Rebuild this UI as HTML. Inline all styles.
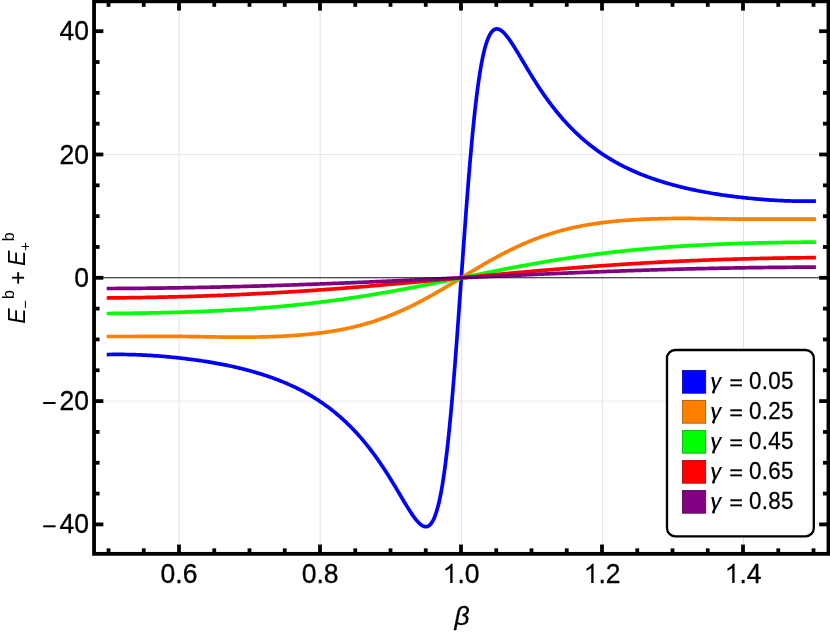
<!DOCTYPE html>
<html><head><meta charset="utf-8"><title>plot</title>
<style>html,body{margin:0;padding:0;background:#fff;}svg{display:block;will-change:transform;}</style>
</head><body>
<svg width="830" height="634" viewBox="0 0 830 634">
<rect x="0" y="0" width="830" height="634" fill="#ffffff"/>
<g stroke="#e8e8e8" stroke-width="1" fill="none">
<line x1="179.10" y1="1.3" x2="179.10" y2="553.85" stroke="#e3e3e3"/>
<line x1="320.20" y1="1.3" x2="320.20" y2="553.85" stroke="#e3e3e3"/>
<line x1="461.30" y1="1.3" x2="461.30" y2="553.85" stroke="#e3e3e3"/>
<line x1="602.40" y1="1.3" x2="602.40" y2="553.85" stroke="#e3e3e3"/>
<line x1="743.50" y1="1.3" x2="743.50" y2="553.85" stroke="#e3e3e3"/>
<line x1="94.05" y1="154.50" x2="828.45" y2="154.50"/>
<line x1="94.05" y1="401.10" x2="828.45" y2="401.10"/>
</g>
<g fill="none" stroke-width="3.7" stroke-linecap="square" stroke-linejoin="round">
<path d="M108.55,354.53 L110.22,354.50 L111.89,354.47 L113.56,354.45 L115.22,354.44 L116.87,354.43 L118.52,354.43 L120.17,354.43 L121.81,354.44 L123.45,354.46 L125.09,354.48 L126.72,354.50 L128.34,354.53 L129.96,354.57 L131.58,354.61 L133.19,354.66 L134.80,354.71 L136.41,354.76 L138.01,354.82 L139.60,354.89 L141.19,354.96 L142.78,355.03 L144.36,355.11 L145.94,355.20 L147.51,355.28 L149.08,355.38 L150.65,355.47 L152.21,355.57 L153.76,355.68 L155.31,355.79 L156.86,355.90 L158.41,356.02 L159.95,356.14 L161.48,356.26 L163.01,356.39 L164.54,356.52 L166.06,356.65 L167.58,356.79 L169.09,356.93 L170.60,357.08 L172.10,357.22 L173.60,357.38 L175.10,357.53 L176.59,357.69 L178.08,357.85 L179.56,358.01 L181.04,358.17 L182.52,358.34 L183.99,358.51 L185.46,358.68 L186.92,358.86 L188.38,359.04 L189.83,359.22 L191.28,359.41 L192.72,359.60 L194.17,359.79 L195.60,359.98 L197.04,360.18 L198.46,360.38 L199.89,360.59 L201.31,360.79 L202.72,361.00 L204.13,361.22 L205.54,361.44 L206.94,361.66 L208.34,361.88 L209.74,362.11 L211.13,362.34 L212.51,362.58 L213.90,362.82 L215.27,363.06 L216.65,363.31 L218.02,363.56 L219.38,363.81 L220.74,364.07 L222.10,364.33 L223.45,364.60 L224.80,364.87 L226.14,365.14 L227.48,365.42 L228.82,365.70 L230.15,365.98 L231.48,366.27 L232.80,366.56 L234.12,366.86 L235.44,367.16 L236.75,367.46 L238.05,367.77 L239.36,368.08 L240.66,368.40 L241.95,368.72 L243.24,369.04 L244.53,369.37 L245.81,369.70 L247.08,370.04 L248.36,370.38 L249.63,370.72 L250.89,371.07 L252.15,371.42 L253.41,371.77 L254.66,372.13 L255.91,372.50 L257.16,372.86 L258.40,373.24 L259.63,373.61 L260.87,373.99 L262.09,374.38 L263.32,374.77 L264.54,375.16 L265.75,375.56 L266.97,375.97 L268.17,376.37 L269.38,376.79 L270.58,377.20 L271.77,377.63 L272.96,378.05 L274.15,378.48 L275.33,378.92 L276.51,379.36 L277.69,379.81 L278.86,380.26 L280.03,380.72 L281.19,381.18 L282.35,381.65 L283.50,382.12 L284.65,382.60 L285.80,383.08 L286.94,383.57 L288.08,384.07 L289.21,384.57 L290.34,385.07 L291.47,385.58 L292.59,386.10 L293.71,386.62 L294.83,387.15 L295.94,387.68 L297.04,388.22 L298.15,388.77 L299.24,389.32 L300.34,389.88 L301.43,390.44 L302.51,391.01 L303.60,391.59 L304.67,392.17 L305.75,392.76 L306.82,393.35 L307.88,393.95 L308.95,394.56 L310.01,395.17 L311.06,395.79 L312.11,396.42 L313.16,397.05 L314.20,397.69 L315.24,398.33 L316.27,398.99 L317.30,399.64 L318.33,400.31 L319.35,400.98 L320.37,401.66 L321.38,402.35 L322.39,403.04 L323.40,403.74 L324.40,404.44 L325.40,405.16 L326.40,405.88 L327.39,406.61 L328.38,407.34 L329.36,408.08 L330.34,408.83 L331.31,409.58 L332.29,410.34 L333.25,411.11 L334.22,411.89 L335.18,412.67 L336.13,413.46 L337.08,414.26 L338.03,415.06 L338.98,415.87 L339.92,416.69 L340.85,417.51 L341.79,418.34 L342.71,419.18 L343.64,420.02 L344.56,420.88 L345.48,421.73 L346.39,422.60 L347.30,423.47 L348.21,424.35 L349.11,425.24 L350.00,426.13 L350.90,427.03 L351.79,427.93 L352.67,428.85 L353.56,429.77 L354.44,430.69 L355.31,431.63 L356.18,432.57 L357.05,433.51 L357.91,434.46 L358.77,435.42 L359.63,436.39 L360.48,437.36 L361.33,438.34 L362.17,439.32 L363.01,440.32 L363.85,441.31 L364.68,442.32 L365.51,443.33 L366.34,444.34 L367.16,445.37 L367.98,446.39 L368.79,447.43 L369.60,448.47 L370.41,449.51 L371.21,450.56 L372.01,451.62 L372.81,452.68 L373.60,453.75 L374.38,454.83 L375.17,455.90 L375.95,456.99 L376.73,458.08 L377.50,459.17 L378.27,460.27 L379.03,461.37 L379.80,462.47 L380.55,463.58 L381.31,464.70 L382.06,465.82 L382.81,466.94 L383.55,468.06 L384.29,469.19 L385.03,470.32 L385.76,471.45 L386.49,472.59 L387.21,473.73 L387.93,474.86 L388.65,476.00 L389.37,477.15 L390.08,478.29 L390.78,479.43 L391.49,480.57 L392.19,481.72 L392.88,482.86 L393.57,484.00 L394.26,485.14 L394.95,486.28 L395.63,487.41 L396.31,488.54 L396.98,489.67 L397.65,490.80 L398.32,491.92 L398.98,493.04 L399.64,494.15 L400.30,495.26 L400.95,496.36 L401.60,497.45 L402.25,498.54 L402.89,499.62 L403.53,500.69 L404.16,501.75 L404.79,502.80 L405.42,503.84 L406.05,504.87 L406.67,505.88 L407.29,506.89 L407.90,507.88 L408.51,508.85 L409.12,509.81 L409.72,510.76 L410.32,511.69 L410.92,512.59 L411.51,513.48 L412.10,514.36 L412.69,515.21 L413.27,516.03 L413.85,516.84 L414.42,517.62 L414.99,518.38 L415.56,519.11 L416.13,519.82 L416.69,520.49 L417.25,521.14 L417.80,521.76 L418.36,522.35 L418.90,522.90 L419.45,523.43 L419.99,523.91 L420.53,524.36 L421.06,524.78 L421.59,525.16 L422.12,525.49 L422.65,525.79 L423.17,526.05 L423.69,526.26 L424.20,526.43 L424.71,526.55 L425.22,526.63 L425.72,526.66 L426.22,526.65 L426.72,526.58 L427.22,526.46 L427.71,526.29 L428.20,526.07 L428.68,525.79 L429.16,525.46 L429.64,525.07 L430.11,524.62 L430.59,524.12 L431.05,523.55 L431.52,522.93 L431.98,522.25 L432.44,521.50 L432.89,520.69 L433.35,519.82 L433.80,518.89 L434.24,517.89 L434.68,516.83 L435.12,515.70 L435.56,514.50 L435.99,513.24 L436.42,511.92 L436.85,510.52 L437.27,509.06 L437.69,507.54 L438.11,505.94 L438.52,504.28 L438.94,502.56 L439.34,500.76 L439.75,498.90 L440.15,496.98 L440.55,494.99 L440.94,492.93 L441.34,490.81 L441.73,488.63 L442.11,486.39 L442.50,484.08 L442.88,481.71 L443.25,479.29 L443.63,476.80 L444.00,474.26 L444.37,471.66 L444.73,469.00 L445.09,466.29 L445.45,463.53 L445.81,460.72 L446.16,457.85 L446.51,454.94 L446.86,451.99 L447.21,448.98 L447.55,445.94 L447.89,442.85 L448.22,439.73 L448.56,436.57 L448.89,433.37 L449.22,430.14 L449.54,426.87 L449.86,423.58 L450.18,420.25 L450.50,416.91 L450.81,413.53 L451.12,410.14 L451.43,406.72 L451.74,403.29 L452.04,399.83 L452.34,396.37 L452.64,392.89 L452.93,389.40 L453.22,385.90 L453.51,382.39 L453.80,378.88 L454.08,375.37 L454.37,371.85 L454.64,368.33 L454.92,364.81 L455.19,361.30 L455.47,357.79 L455.74,354.28 L456.00,350.79 L456.27,347.30 L456.53,343.82 L456.79,340.35 L457.04,336.90 L457.30,333.46 L457.55,330.03 L457.80,326.62 L458.05,323.23 L458.29,319.85 L458.54,316.49 L458.78,313.15 L459.02,309.84 L459.25,306.54 L459.49,303.26 L459.72,300.00 L459.95,296.77 L460.18,293.55 L460.41,290.36 L460.63,287.19 L460.86,284.04 L461.08,280.91 L461.30,277.80 L461.52,274.69 L461.74,271.56 L461.97,268.41 L462.19,265.24 L462.42,262.05 L462.65,258.83 L462.88,255.60 L463.11,252.34 L463.35,249.06 L463.58,245.76 L463.82,242.45 L464.06,239.11 L464.31,235.75 L464.55,232.37 L464.80,228.98 L465.05,225.57 L465.30,222.14 L465.56,218.70 L465.81,215.25 L466.07,211.78 L466.33,208.30 L466.60,204.81 L466.86,201.32 L467.13,197.81 L467.41,194.30 L467.68,190.79 L467.96,187.27 L468.23,183.75 L468.52,180.23 L468.80,176.72 L469.09,173.21 L469.38,169.70 L469.67,166.20 L469.96,162.71 L470.26,159.23 L470.56,155.77 L470.86,152.31 L471.17,148.88 L471.48,145.46 L471.79,142.07 L472.10,138.69 L472.42,135.35 L472.74,132.02 L473.06,128.73 L473.38,125.46 L473.71,122.23 L474.04,119.03 L474.38,115.87 L474.71,112.75 L475.05,109.66 L475.39,106.62 L475.74,103.61 L476.09,100.66 L476.44,97.75 L476.79,94.88 L477.15,92.07 L477.51,89.31 L477.87,86.60 L478.23,83.94 L478.60,81.34 L478.97,78.80 L479.35,76.31 L479.72,73.89 L480.10,71.52 L480.49,69.21 L480.87,66.97 L481.26,64.79 L481.66,62.67 L482.05,60.61 L482.45,58.62 L482.85,56.70 L483.26,54.84 L483.66,53.04 L484.08,51.32 L484.49,49.66 L484.91,48.06 L485.33,46.54 L485.75,45.08 L486.18,43.68 L486.61,42.36 L487.04,41.10 L487.48,39.90 L487.92,38.77 L488.36,37.71 L488.80,36.71 L489.25,35.78 L489.71,34.91 L490.16,34.10 L490.62,33.35 L491.08,32.67 L491.55,32.05 L492.01,31.48 L492.49,30.98 L492.96,30.53 L493.44,30.14 L493.92,29.81 L494.40,29.53 L494.89,29.31 L495.38,29.14 L495.88,29.02 L496.38,28.95 L496.88,28.94 L497.38,28.97 L497.89,29.05 L498.40,29.17 L498.91,29.34 L499.43,29.55 L499.95,29.81 L500.48,30.11 L501.01,30.44 L501.54,30.82 L502.07,31.24 L502.61,31.69 L503.15,32.17 L503.70,32.70 L504.24,33.25 L504.80,33.84 L505.35,34.46 L505.91,35.11 L506.47,35.78 L507.04,36.49 L507.61,37.22 L508.18,37.98 L508.75,38.76 L509.33,39.57 L509.91,40.39 L510.50,41.24 L511.09,42.12 L511.68,43.01 L512.28,43.91 L512.88,44.84 L513.48,45.79 L514.09,46.75 L514.70,47.72 L515.31,48.71 L515.93,49.72 L516.55,50.73 L517.18,51.76 L517.81,52.80 L518.44,53.85 L519.07,54.91 L519.71,55.98 L520.35,57.06 L521.00,58.15 L521.65,59.24 L522.30,60.34 L522.96,61.45 L523.62,62.56 L524.28,63.68 L524.95,64.80 L525.62,65.93 L526.29,67.06 L526.97,68.19 L527.65,69.32 L528.34,70.46 L529.03,71.60 L529.72,72.74 L530.41,73.88 L531.11,75.03 L531.82,76.17 L532.52,77.31 L533.23,78.45 L533.95,79.60 L534.67,80.74 L535.39,81.87 L536.11,83.01 L536.84,84.15 L537.57,85.28 L538.31,86.41 L539.05,87.54 L539.79,88.66 L540.54,89.78 L541.29,90.90 L542.05,92.02 L542.80,93.13 L543.57,94.23 L544.33,95.33 L545.10,96.43 L545.87,97.52 L546.65,98.61 L547.43,99.70 L548.22,100.77 L549.00,101.85 L549.79,102.92 L550.59,103.98 L551.39,105.04 L552.19,106.09 L553.00,107.13 L553.81,108.17 L554.62,109.21 L555.44,110.23 L556.26,111.26 L557.09,112.27 L557.92,113.28 L558.75,114.29 L559.59,115.28 L560.43,116.28 L561.27,117.26 L562.12,118.24 L562.97,119.21 L563.83,120.18 L564.69,121.14 L565.55,122.09 L566.42,123.03 L567.29,123.97 L568.16,124.91 L569.04,125.83 L569.93,126.75 L570.81,127.67 L571.70,128.57 L572.60,129.47 L573.49,130.36 L574.39,131.25 L575.30,132.13 L576.21,133.00 L577.12,133.87 L578.04,134.72 L578.96,135.58 L579.89,136.42 L580.81,137.26 L581.75,138.09 L582.68,138.91 L583.62,139.73 L584.57,140.54 L585.52,141.34 L586.47,142.14 L587.42,142.93 L588.38,143.71 L589.35,144.49 L590.31,145.26 L591.29,146.02 L592.26,146.77 L593.24,147.52 L594.22,148.26 L595.21,148.99 L596.20,149.72 L597.20,150.44 L598.20,151.16 L599.20,151.86 L600.21,152.56 L601.22,153.25 L602.23,153.94 L603.25,154.62 L604.27,155.29 L605.30,155.96 L606.33,156.61 L607.36,157.27 L608.40,157.91 L609.44,158.55 L610.49,159.18 L611.54,159.81 L612.59,160.43 L613.65,161.04 L614.72,161.65 L615.78,162.25 L616.85,162.84 L617.93,163.43 L619.00,164.01 L620.09,164.59 L621.17,165.16 L622.26,165.72 L623.36,166.28 L624.45,166.83 L625.56,167.38 L626.66,167.92 L627.77,168.45 L628.89,168.98 L630.01,169.50 L631.13,170.02 L632.26,170.53 L633.39,171.03 L634.52,171.53 L635.66,172.03 L636.80,172.52 L637.95,173.00 L639.10,173.48 L640.25,173.95 L641.41,174.42 L642.57,174.88 L643.74,175.34 L644.91,175.79 L646.09,176.24 L647.27,176.68 L648.45,177.12 L649.64,177.55 L650.83,177.97 L652.02,178.40 L653.22,178.81 L654.43,179.23 L655.63,179.63 L656.85,180.04 L658.06,180.44 L659.28,180.83 L660.51,181.22 L661.73,181.61 L662.97,181.99 L664.20,182.36 L665.44,182.74 L666.69,183.10 L667.94,183.47 L669.19,183.83 L670.45,184.18 L671.71,184.53 L672.97,184.88 L674.24,185.22 L675.52,185.56 L676.79,185.90 L678.07,186.23 L679.36,186.56 L680.65,186.88 L681.94,187.20 L683.24,187.52 L684.55,187.83 L685.85,188.14 L687.16,188.44 L688.48,188.74 L689.80,189.04 L691.12,189.33 L692.45,189.62 L693.78,189.90 L695.12,190.18 L696.46,190.46 L697.80,190.73 L699.15,191.00 L700.50,191.27 L701.86,191.53 L703.22,191.79 L704.58,192.04 L705.95,192.29 L707.33,192.54 L708.70,192.78 L710.09,193.02 L711.47,193.26 L712.86,193.49 L714.26,193.72 L715.66,193.94 L717.06,194.16 L718.47,194.38 L719.88,194.60 L721.29,194.81 L722.71,195.01 L724.14,195.22 L725.56,195.42 L727.00,195.62 L728.43,195.81 L729.88,196.00 L731.32,196.19 L732.77,196.38 L734.22,196.56 L735.68,196.74 L737.14,196.92 L738.61,197.09 L740.08,197.26 L741.56,197.43 L743.04,197.59 L744.52,197.75 L746.01,197.91 L747.50,198.07 L749.00,198.22 L750.50,198.38 L752.00,198.52 L753.51,198.67 L755.02,198.81 L756.54,198.95 L758.06,199.08 L759.59,199.21 L761.12,199.34 L762.65,199.46 L764.19,199.58 L765.74,199.70 L767.29,199.81 L768.84,199.92 L770.39,200.03 L771.95,200.13 L773.52,200.22 L775.09,200.32 L776.66,200.40 L778.24,200.49 L779.82,200.57 L781.41,200.64 L783.00,200.71 L784.59,200.78 L786.19,200.84 L787.80,200.89 L789.41,200.94 L791.02,200.99 L792.64,201.03 L794.26,201.07 L795.88,201.10 L797.51,201.12 L799.15,201.14 L800.79,201.16 L802.43,201.17 L804.08,201.17 L805.73,201.17 L807.38,201.16 L809.04,201.15 L810.71,201.13 L812.38,201.10 L814.05,201.07" stroke="#0000ff"/>
<path d="M108.55,336.48 L110.22,336.48 L111.89,336.49 L113.56,336.50 L115.22,336.50 L116.87,336.50 L118.52,336.50 L120.17,336.50 L121.81,336.50 L123.45,336.50 L125.09,336.50 L126.72,336.50 L128.34,336.49 L129.96,336.49 L131.58,336.49 L133.19,336.48 L134.80,336.48 L136.41,336.47 L138.01,336.46 L139.60,336.46 L141.19,336.45 L142.78,336.44 L144.36,336.44 L145.94,336.43 L147.51,336.42 L149.08,336.42 L150.65,336.41 L152.21,336.41 L153.76,336.40 L155.31,336.40 L156.86,336.39 L158.41,336.39 L159.95,336.39 L161.48,336.39 L163.01,336.39 L164.54,336.39 L166.06,336.39 L167.58,336.39 L169.09,336.39 L170.60,336.39 L172.10,336.40 L173.60,336.41 L175.10,336.41 L176.59,336.42 L178.08,336.43 L179.56,336.44 L181.04,336.46 L182.52,336.47 L183.99,336.48 L185.46,336.50 L186.92,336.52 L188.38,336.54 L189.83,336.56 L191.28,336.58 L192.72,336.60 L194.17,336.62 L195.60,336.64 L197.04,336.66 L198.46,336.69 L199.89,336.71 L201.31,336.73 L202.72,336.76 L204.13,336.78 L205.54,336.80 L206.94,336.83 L208.34,336.85 L209.74,336.87 L211.13,336.89 L212.51,336.92 L213.90,336.94 L215.27,336.96 L216.65,336.98 L218.02,337.00 L219.38,337.02 L220.74,337.03 L222.10,337.05 L223.45,337.07 L224.80,337.08 L226.14,337.09 L227.48,337.11 L228.82,337.12 L230.15,337.13 L231.48,337.14 L232.80,337.15 L234.12,337.15 L235.44,337.16 L236.75,337.16 L238.05,337.17 L239.36,337.17 L240.66,337.17 L241.95,337.17 L243.24,337.16 L244.53,337.16 L245.81,337.15 L247.08,337.15 L248.36,337.14 L249.63,337.13 L250.89,337.11 L252.15,337.10 L253.41,337.08 L254.66,337.06 L255.91,337.04 L257.16,337.02 L258.40,337.00 L259.63,336.97 L260.87,336.95 L262.09,336.92 L263.32,336.89 L264.54,336.86 L265.75,336.82 L266.97,336.79 L268.17,336.75 L269.38,336.71 L270.58,336.67 L271.77,336.63 L272.96,336.59 L274.15,336.54 L275.33,336.49 L276.51,336.44 L277.69,336.39 L278.86,336.34 L280.03,336.29 L281.19,336.23 L282.35,336.17 L283.50,336.11 L284.65,336.05 L285.80,335.99 L286.94,335.92 L288.08,335.86 L289.21,335.79 L290.34,335.72 L291.47,335.65 L292.59,335.57 L293.71,335.50 L294.83,335.42 L295.94,335.34 L297.04,335.26 L298.15,335.18 L299.24,335.09 L300.34,335.00 L301.43,334.91 L302.51,334.82 L303.60,334.73 L304.67,334.63 L305.75,334.53 L306.82,334.43 L307.88,334.33 L308.95,334.23 L310.01,334.12 L311.06,334.01 L312.11,333.90 L313.16,333.79 L314.20,333.67 L315.24,333.56 L316.27,333.44 L317.30,333.31 L318.33,333.19 L319.35,333.06 L320.37,332.93 L321.38,332.80 L322.39,332.67 L323.40,332.53 L324.40,332.40 L325.40,332.26 L326.40,332.11 L327.39,331.97 L328.38,331.82 L329.36,331.67 L330.34,331.52 L331.31,331.37 L332.29,331.21 L333.25,331.05 L334.22,330.89 L335.18,330.73 L336.13,330.56 L337.08,330.39 L338.03,330.22 L338.98,330.05 L339.92,329.87 L340.85,329.70 L341.79,329.52 L342.71,329.33 L343.64,329.15 L344.56,328.96 L345.48,328.78 L346.39,328.58 L347.30,328.39 L348.21,328.20 L349.11,328.00 L350.00,327.80 L350.90,327.60 L351.79,327.39 L352.67,327.19 L353.56,326.98 L354.44,326.77 L355.31,326.56 L356.18,326.34 L357.05,326.13 L357.91,325.91 L358.77,325.69 L359.63,325.47 L360.48,325.24 L361.33,325.01 L362.17,324.79 L363.01,324.56 L363.85,324.32 L364.68,324.09 L365.51,323.85 L366.34,323.62 L367.16,323.38 L367.98,323.14 L368.79,322.89 L369.60,322.65 L370.41,322.40 L371.21,322.15 L372.01,321.90 L372.81,321.65 L373.60,321.40 L374.38,321.14 L375.17,320.89 L375.95,320.63 L376.73,320.37 L377.50,320.11 L378.27,319.85 L379.03,319.59 L379.80,319.32 L380.55,319.06 L381.31,318.79 L382.06,318.52 L382.81,318.25 L383.55,317.98 L384.29,317.71 L385.03,317.43 L385.76,317.16 L386.49,316.89 L387.21,316.61 L387.93,316.33 L388.65,316.05 L389.37,315.77 L390.08,315.49 L390.78,315.21 L391.49,314.93 L392.19,314.65 L392.88,314.37 L393.57,314.08 L394.26,313.80 L394.95,313.51 L395.63,313.23 L396.31,312.94 L396.98,312.65 L397.65,312.36 L398.32,312.08 L398.98,311.79 L399.64,311.50 L400.30,311.21 L400.95,310.92 L401.60,310.63 L402.25,310.34 L402.89,310.05 L403.53,309.76 L404.16,309.47 L404.79,309.18 L405.42,308.89 L406.05,308.60 L406.67,308.30 L407.29,308.01 L407.90,307.72 L408.51,307.43 L409.12,307.14 L409.72,306.85 L410.32,306.56 L410.92,306.27 L411.51,305.98 L412.10,305.69 L412.69,305.40 L413.27,305.11 L413.85,304.82 L414.42,304.53 L414.99,304.25 L415.56,303.96 L416.13,303.67 L416.69,303.39 L417.25,303.10 L417.80,302.81 L418.36,302.53 L418.90,302.24 L419.45,301.96 L419.99,301.68 L420.53,301.40 L421.06,301.11 L421.59,300.83 L422.12,300.55 L422.65,300.28 L423.17,300.00 L423.69,299.72 L424.20,299.44 L424.71,299.17 L425.22,298.89 L425.72,298.62 L426.22,298.35 L426.72,298.07 L427.22,297.80 L427.71,297.53 L428.20,297.26 L428.68,297.00 L429.16,296.73 L429.64,296.46 L430.11,296.20 L430.59,295.94 L431.05,295.68 L431.52,295.41 L431.98,295.15 L432.44,294.90 L432.89,294.64 L433.35,294.38 L433.80,294.13 L434.24,293.87 L434.68,293.62 L435.12,293.37 L435.56,293.12 L435.99,292.87 L436.42,292.63 L436.85,292.38 L437.27,292.14 L437.69,291.89 L438.11,291.65 L438.52,291.41 L438.94,291.18 L439.34,290.94 L439.75,290.70 L440.15,290.47 L440.55,290.24 L440.94,290.00 L441.34,289.77 L441.73,289.55 L442.11,289.32 L442.50,289.09 L442.88,288.87 L443.25,288.65 L443.63,288.43 L444.00,288.21 L444.37,287.99 L444.73,287.77 L445.09,287.56 L445.45,287.35 L445.81,287.13 L446.16,286.92 L446.51,286.71 L446.86,286.51 L447.21,286.30 L447.55,286.10 L447.89,285.90 L448.22,285.69 L448.56,285.50 L448.89,285.30 L449.22,285.10 L449.54,284.91 L449.86,284.71 L450.18,284.52 L450.50,284.33 L450.81,284.14 L451.12,283.96 L451.43,283.77 L451.74,283.59 L452.04,283.41 L452.34,283.22 L452.64,283.05 L452.93,282.87 L453.22,282.69 L453.51,282.52 L453.80,282.34 L454.08,282.17 L454.37,282.00 L454.64,281.83 L454.92,281.67 L455.19,281.50 L455.47,281.34 L455.74,281.17 L456.00,281.01 L456.27,280.85 L456.53,280.69 L456.79,280.54 L457.04,280.38 L457.30,280.23 L457.55,280.07 L457.80,279.92 L458.05,279.77 L458.29,279.62 L458.54,279.48 L458.78,279.33 L459.02,279.19 L459.25,279.04 L459.49,278.90 L459.72,278.76 L459.95,278.62 L460.18,278.48 L460.41,278.34 L460.63,278.20 L460.86,278.07 L461.08,277.93 L461.30,277.80 L461.52,277.67 L461.74,277.53 L461.97,277.40 L462.19,277.26 L462.42,277.12 L462.65,276.98 L462.88,276.84 L463.11,276.70 L463.35,276.56 L463.58,276.41 L463.82,276.27 L464.06,276.12 L464.31,275.98 L464.55,275.83 L464.80,275.68 L465.05,275.53 L465.30,275.37 L465.56,275.22 L465.81,275.06 L466.07,274.91 L466.33,274.75 L466.60,274.59 L466.86,274.43 L467.13,274.26 L467.41,274.10 L467.68,273.93 L467.96,273.77 L468.23,273.60 L468.52,273.43 L468.80,273.26 L469.09,273.08 L469.38,272.91 L469.67,272.73 L469.96,272.55 L470.26,272.38 L470.56,272.19 L470.86,272.01 L471.17,271.83 L471.48,271.64 L471.79,271.46 L472.10,271.27 L472.42,271.08 L472.74,270.89 L473.06,270.69 L473.38,270.50 L473.71,270.30 L474.04,270.10 L474.38,269.91 L474.71,269.70 L475.05,269.50 L475.39,269.30 L475.74,269.09 L476.09,268.89 L476.44,268.68 L476.79,268.47 L477.15,268.25 L477.51,268.04 L477.87,267.83 L478.23,267.61 L478.60,267.39 L478.97,267.17 L479.35,266.95 L479.72,266.73 L480.10,266.51 L480.49,266.28 L480.87,266.05 L481.26,265.83 L481.66,265.60 L482.05,265.36 L482.45,265.13 L482.85,264.90 L483.26,264.66 L483.66,264.42 L484.08,264.19 L484.49,263.95 L484.91,263.71 L485.33,263.46 L485.75,263.22 L486.18,262.97 L486.61,262.73 L487.04,262.48 L487.48,262.23 L487.92,261.98 L488.36,261.73 L488.80,261.47 L489.25,261.22 L489.71,260.96 L490.16,260.70 L490.62,260.45 L491.08,260.19 L491.55,259.92 L492.01,259.66 L492.49,259.40 L492.96,259.14 L493.44,258.87 L493.92,258.60 L494.40,258.34 L494.89,258.07 L495.38,257.80 L495.88,257.53 L496.38,257.25 L496.88,256.98 L497.38,256.71 L497.89,256.43 L498.40,256.16 L498.91,255.88 L499.43,255.60 L499.95,255.32 L500.48,255.05 L501.01,254.77 L501.54,254.49 L502.07,254.20 L502.61,253.92 L503.15,253.64 L503.70,253.36 L504.24,253.07 L504.80,252.79 L505.35,252.50 L505.91,252.21 L506.47,251.93 L507.04,251.64 L507.61,251.35 L508.18,251.07 L508.75,250.78 L509.33,250.49 L509.91,250.20 L510.50,249.91 L511.09,249.62 L511.68,249.33 L512.28,249.04 L512.88,248.75 L513.48,248.46 L514.09,248.17 L514.70,247.88 L515.31,247.59 L515.93,247.30 L516.55,247.00 L517.18,246.71 L517.81,246.42 L518.44,246.13 L519.07,245.84 L519.71,245.55 L520.35,245.26 L521.00,244.97 L521.65,244.68 L522.30,244.39 L522.96,244.10 L523.62,243.81 L524.28,243.52 L524.95,243.24 L525.62,242.95 L526.29,242.66 L526.97,242.37 L527.65,242.09 L528.34,241.80 L529.03,241.52 L529.72,241.23 L530.41,240.95 L531.11,240.67 L531.82,240.39 L532.52,240.11 L533.23,239.83 L533.95,239.55 L534.67,239.27 L535.39,238.99 L536.11,238.71 L536.84,238.44 L537.57,238.17 L538.31,237.89 L539.05,237.62 L539.79,237.35 L540.54,237.08 L541.29,236.81 L542.05,236.54 L542.80,236.28 L543.57,236.01 L544.33,235.75 L545.10,235.49 L545.87,235.23 L546.65,234.97 L547.43,234.71 L548.22,234.46 L549.00,234.20 L549.79,233.95 L550.59,233.70 L551.39,233.45 L552.19,233.20 L553.00,232.95 L553.81,232.71 L554.62,232.46 L555.44,232.22 L556.26,231.98 L557.09,231.75 L557.92,231.51 L558.75,231.28 L559.59,231.04 L560.43,230.81 L561.27,230.59 L562.12,230.36 L562.97,230.13 L563.83,229.91 L564.69,229.69 L565.55,229.47 L566.42,229.26 L567.29,229.04 L568.16,228.83 L569.04,228.62 L569.93,228.41 L570.81,228.21 L571.70,228.00 L572.60,227.80 L573.49,227.60 L574.39,227.40 L575.30,227.21 L576.21,227.02 L577.12,226.82 L578.04,226.64 L578.96,226.45 L579.89,226.27 L580.81,226.08 L581.75,225.90 L582.68,225.73 L583.62,225.55 L584.57,225.38 L585.52,225.21 L586.47,225.04 L587.42,224.87 L588.38,224.71 L589.35,224.55 L590.31,224.39 L591.29,224.23 L592.26,224.08 L593.24,223.93 L594.22,223.78 L595.21,223.63 L596.20,223.49 L597.20,223.34 L598.20,223.20 L599.20,223.07 L600.21,222.93 L601.22,222.80 L602.23,222.67 L603.25,222.54 L604.27,222.41 L605.30,222.29 L606.33,222.16 L607.36,222.04 L608.40,221.93 L609.44,221.81 L610.49,221.70 L611.54,221.59 L612.59,221.48 L613.65,221.37 L614.72,221.27 L615.78,221.17 L616.85,221.07 L617.93,220.97 L619.00,220.87 L620.09,220.78 L621.17,220.69 L622.26,220.60 L623.36,220.51 L624.45,220.42 L625.56,220.34 L626.66,220.26 L627.77,220.18 L628.89,220.10 L630.01,220.03 L631.13,219.95 L632.26,219.88 L633.39,219.81 L634.52,219.74 L635.66,219.68 L636.80,219.61 L637.95,219.55 L639.10,219.49 L640.25,219.43 L641.41,219.37 L642.57,219.31 L643.74,219.26 L644.91,219.21 L646.09,219.16 L647.27,219.11 L648.45,219.06 L649.64,219.01 L650.83,218.97 L652.02,218.93 L653.22,218.89 L654.43,218.85 L655.63,218.81 L656.85,218.78 L658.06,218.74 L659.28,218.71 L660.51,218.68 L661.73,218.65 L662.97,218.63 L664.20,218.60 L665.44,218.58 L666.69,218.56 L667.94,218.54 L669.19,218.52 L670.45,218.50 L671.71,218.49 L672.97,218.47 L674.24,218.46 L675.52,218.45 L676.79,218.45 L678.07,218.44 L679.36,218.44 L680.65,218.43 L681.94,218.43 L683.24,218.43 L684.55,218.43 L685.85,218.44 L687.16,218.44 L688.48,218.45 L689.80,218.45 L691.12,218.46 L692.45,218.47 L693.78,218.48 L695.12,218.49 L696.46,218.51 L697.80,218.52 L699.15,218.53 L700.50,218.55 L701.86,218.57 L703.22,218.58 L704.58,218.60 L705.95,218.62 L707.33,218.64 L708.70,218.66 L710.09,218.68 L711.47,218.71 L712.86,218.73 L714.26,218.75 L715.66,218.77 L717.06,218.80 L718.47,218.82 L719.88,218.84 L721.29,218.87 L722.71,218.89 L724.14,218.91 L725.56,218.94 L727.00,218.96 L728.43,218.98 L729.88,219.00 L731.32,219.02 L732.77,219.04 L734.22,219.06 L735.68,219.08 L737.14,219.10 L738.61,219.12 L740.08,219.13 L741.56,219.14 L743.04,219.16 L744.52,219.17 L746.01,219.18 L747.50,219.19 L749.00,219.19 L750.50,219.20 L752.00,219.21 L753.51,219.21 L755.02,219.21 L756.54,219.21 L758.06,219.21 L759.59,219.21 L761.12,219.21 L762.65,219.21 L764.19,219.21 L765.74,219.21 L767.29,219.20 L768.84,219.20 L770.39,219.19 L771.95,219.19 L773.52,219.18 L775.09,219.18 L776.66,219.17 L778.24,219.16 L779.82,219.16 L781.41,219.15 L783.00,219.14 L784.59,219.14 L786.19,219.13 L787.80,219.12 L789.41,219.12 L791.02,219.11 L792.64,219.11 L794.26,219.11 L795.88,219.10 L797.51,219.10 L799.15,219.10 L800.79,219.10 L802.43,219.10 L804.08,219.10 L805.73,219.10 L807.38,219.10 L809.04,219.10 L810.71,219.11 L812.38,219.12 L814.05,219.12" stroke="#ff7f00"/>
<path d="M108.55,313.49 L110.22,313.48 L111.89,313.47 L113.56,313.45 L115.22,313.44 L116.87,313.42 L118.52,313.41 L120.17,313.39 L121.81,313.37 L123.45,313.35 L125.09,313.34 L126.72,313.32 L128.34,313.30 L129.96,313.28 L131.58,313.26 L133.19,313.23 L134.80,313.21 L136.41,313.19 L138.01,313.17 L139.60,313.14 L141.19,313.12 L142.78,313.09 L144.36,313.06 L145.94,313.04 L147.51,313.01 L149.08,312.98 L150.65,312.95 L152.21,312.92 L153.76,312.89 L155.31,312.86 L156.86,312.82 L158.41,312.79 L159.95,312.76 L161.48,312.72 L163.01,312.69 L164.54,312.65 L166.06,312.61 L167.58,312.58 L169.09,312.54 L170.60,312.50 L172.10,312.46 L173.60,312.42 L175.10,312.38 L176.59,312.33 L178.08,312.29 L179.56,312.25 L181.04,312.20 L182.52,312.16 L183.99,312.11 L185.46,312.06 L186.92,312.01 L188.38,311.96 L189.83,311.91 L191.28,311.86 L192.72,311.81 L194.17,311.76 L195.60,311.71 L197.04,311.65 L198.46,311.60 L199.89,311.54 L201.31,311.49 L202.72,311.43 L204.13,311.37 L205.54,311.31 L206.94,311.25 L208.34,311.19 L209.74,311.13 L211.13,311.07 L212.51,311.00 L213.90,310.94 L215.27,310.88 L216.65,310.81 L218.02,310.74 L219.38,310.68 L220.74,310.61 L222.10,310.54 L223.45,310.47 L224.80,310.40 L226.14,310.33 L227.48,310.25 L228.82,310.18 L230.15,310.11 L231.48,310.03 L232.80,309.95 L234.12,309.88 L235.44,309.80 L236.75,309.72 L238.05,309.64 L239.36,309.56 L240.66,309.48 L241.95,309.40 L243.24,309.32 L244.53,309.23 L245.81,309.15 L247.08,309.06 L248.36,308.98 L249.63,308.89 L250.89,308.80 L252.15,308.72 L253.41,308.63 L254.66,308.54 L255.91,308.45 L257.16,308.35 L258.40,308.26 L259.63,308.17 L260.87,308.07 L262.09,307.98 L263.32,307.88 L264.54,307.79 L265.75,307.69 L266.97,307.59 L268.17,307.50 L269.38,307.40 L270.58,307.30 L271.77,307.20 L272.96,307.09 L274.15,306.99 L275.33,306.89 L276.51,306.79 L277.69,306.68 L278.86,306.58 L280.03,306.47 L281.19,306.37 L282.35,306.26 L283.50,306.15 L284.65,306.04 L285.80,305.94 L286.94,305.83 L288.08,305.72 L289.21,305.61 L290.34,305.49 L291.47,305.38 L292.59,305.27 L293.71,305.16 L294.83,305.04 L295.94,304.93 L297.04,304.81 L298.15,304.70 L299.24,304.58 L300.34,304.47 L301.43,304.35 L302.51,304.23 L303.60,304.12 L304.67,304.00 L305.75,303.88 L306.82,303.76 L307.88,303.64 L308.95,303.52 L310.01,303.40 L311.06,303.28 L312.11,303.15 L313.16,303.03 L314.20,302.91 L315.24,302.79 L316.27,302.66 L317.30,302.54 L318.33,302.42 L319.35,302.29 L320.37,302.17 L321.38,302.04 L322.39,301.92 L323.40,301.79 L324.40,301.66 L325.40,301.54 L326.40,301.41 L327.39,301.28 L328.38,301.15 L329.36,301.03 L330.34,300.90 L331.31,300.77 L332.29,300.64 L333.25,300.51 L334.22,300.38 L335.18,300.25 L336.13,300.12 L337.08,299.99 L338.03,299.86 L338.98,299.73 L339.92,299.60 L340.85,299.47 L341.79,299.34 L342.71,299.21 L343.64,299.08 L344.56,298.95 L345.48,298.82 L346.39,298.69 L347.30,298.55 L348.21,298.42 L349.11,298.29 L350.00,298.16 L350.90,298.03 L351.79,297.89 L352.67,297.76 L353.56,297.63 L354.44,297.50 L355.31,297.36 L356.18,297.23 L357.05,297.10 L357.91,296.97 L358.77,296.83 L359.63,296.70 L360.48,296.57 L361.33,296.44 L362.17,296.30 L363.01,296.17 L363.85,296.04 L364.68,295.91 L365.51,295.77 L366.34,295.64 L367.16,295.51 L367.98,295.38 L368.79,295.25 L369.60,295.11 L370.41,294.98 L371.21,294.85 L372.01,294.72 L372.81,294.59 L373.60,294.46 L374.38,294.33 L375.17,294.20 L375.95,294.06 L376.73,293.93 L377.50,293.80 L378.27,293.67 L379.03,293.54 L379.80,293.41 L380.55,293.28 L381.31,293.16 L382.06,293.03 L382.81,292.90 L383.55,292.77 L384.29,292.64 L385.03,292.51 L385.76,292.39 L386.49,292.26 L387.21,292.13 L387.93,292.00 L388.65,291.88 L389.37,291.75 L390.08,291.63 L390.78,291.50 L391.49,291.37 L392.19,291.25 L392.88,291.12 L393.57,291.00 L394.26,290.88 L394.95,290.75 L395.63,290.63 L396.31,290.51 L396.98,290.38 L397.65,290.26 L398.32,290.14 L398.98,290.02 L399.64,289.90 L400.30,289.78 L400.95,289.66 L401.60,289.54 L402.25,289.42 L402.89,289.30 L403.53,289.18 L404.16,289.06 L404.79,288.95 L405.42,288.83 L406.05,288.71 L406.67,288.59 L407.29,288.48 L407.90,288.36 L408.51,288.25 L409.12,288.13 L409.72,288.02 L410.32,287.91 L410.92,287.79 L411.51,287.68 L412.10,287.57 L412.69,287.46 L413.27,287.35 L413.85,287.24 L414.42,287.13 L414.99,287.02 L415.56,286.91 L416.13,286.80 L416.69,286.69 L417.25,286.58 L417.80,286.48 L418.36,286.37 L418.90,286.26 L419.45,286.16 L419.99,286.05 L420.53,285.95 L421.06,285.85 L421.59,285.74 L422.12,285.64 L422.65,285.54 L423.17,285.44 L423.69,285.33 L424.20,285.23 L424.71,285.13 L425.22,285.03 L425.72,284.94 L426.22,284.84 L426.72,284.74 L427.22,284.64 L427.71,284.55 L428.20,284.45 L428.68,284.35 L429.16,284.26 L429.64,284.16 L430.11,284.07 L430.59,283.98 L431.05,283.89 L431.52,283.79 L431.98,283.70 L432.44,283.61 L432.89,283.52 L433.35,283.43 L433.80,283.34 L434.24,283.25 L434.68,283.16 L435.12,283.08 L435.56,282.99 L435.99,282.90 L436.42,282.82 L436.85,282.73 L437.27,282.65 L437.69,282.56 L438.11,282.48 L438.52,282.40 L438.94,282.32 L439.34,282.23 L439.75,282.15 L440.15,282.07 L440.55,281.99 L440.94,281.91 L441.34,281.83 L441.73,281.76 L442.11,281.68 L442.50,281.60 L442.88,281.53 L443.25,281.45 L443.63,281.37 L444.00,281.30 L444.37,281.23 L444.73,281.15 L445.09,281.08 L445.45,281.01 L445.81,280.93 L446.16,280.86 L446.51,280.79 L446.86,280.72 L447.21,280.65 L447.55,280.58 L447.89,280.52 L448.22,280.45 L448.56,280.38 L448.89,280.31 L449.22,280.25 L449.54,280.18 L449.86,280.12 L450.18,280.05 L450.50,279.99 L450.81,279.93 L451.12,279.86 L451.43,279.80 L451.74,279.74 L452.04,279.68 L452.34,279.62 L452.64,279.56 L452.93,279.50 L453.22,279.44 L453.51,279.38 L453.80,279.32 L454.08,279.26 L454.37,279.21 L454.64,279.15 L454.92,279.09 L455.19,279.04 L455.47,278.98 L455.74,278.93 L456.00,278.87 L456.27,278.82 L456.53,278.77 L456.79,278.72 L457.04,278.66 L457.30,278.61 L457.55,278.56 L457.80,278.51 L458.05,278.46 L458.29,278.41 L458.54,278.36 L458.78,278.31 L459.02,278.26 L459.25,278.22 L459.49,278.17 L459.72,278.12 L459.95,278.07 L460.18,278.03 L460.41,277.98 L460.63,277.94 L460.86,277.89 L461.08,277.84 L461.30,277.80 L461.52,277.76 L461.74,277.71 L461.97,277.66 L462.19,277.62 L462.42,277.57 L462.65,277.53 L462.88,277.48 L463.11,277.43 L463.35,277.38 L463.58,277.34 L463.82,277.29 L464.06,277.24 L464.31,277.19 L464.55,277.14 L464.80,277.09 L465.05,277.04 L465.30,276.99 L465.56,276.94 L465.81,276.88 L466.07,276.83 L466.33,276.78 L466.60,276.73 L466.86,276.67 L467.13,276.62 L467.41,276.56 L467.68,276.51 L467.96,276.45 L468.23,276.39 L468.52,276.34 L468.80,276.28 L469.09,276.22 L469.38,276.16 L469.67,276.10 L469.96,276.04 L470.26,275.98 L470.56,275.92 L470.86,275.86 L471.17,275.80 L471.48,275.74 L471.79,275.67 L472.10,275.61 L472.42,275.55 L472.74,275.48 L473.06,275.42 L473.38,275.35 L473.71,275.29 L474.04,275.22 L474.38,275.15 L474.71,275.08 L475.05,275.02 L475.39,274.95 L475.74,274.88 L476.09,274.81 L476.44,274.74 L476.79,274.67 L477.15,274.59 L477.51,274.52 L477.87,274.45 L478.23,274.37 L478.60,274.30 L478.97,274.23 L479.35,274.15 L479.72,274.07 L480.10,274.00 L480.49,273.92 L480.87,273.84 L481.26,273.77 L481.66,273.69 L482.05,273.61 L482.45,273.53 L482.85,273.45 L483.26,273.37 L483.66,273.28 L484.08,273.20 L484.49,273.12 L484.91,273.04 L485.33,272.95 L485.75,272.87 L486.18,272.78 L486.61,272.70 L487.04,272.61 L487.48,272.52 L487.92,272.44 L488.36,272.35 L488.80,272.26 L489.25,272.17 L489.71,272.08 L490.16,271.99 L490.62,271.90 L491.08,271.81 L491.55,271.71 L492.01,271.62 L492.49,271.53 L492.96,271.44 L493.44,271.34 L493.92,271.25 L494.40,271.15 L494.89,271.05 L495.38,270.96 L495.88,270.86 L496.38,270.76 L496.88,270.66 L497.38,270.57 L497.89,270.47 L498.40,270.37 L498.91,270.27 L499.43,270.16 L499.95,270.06 L500.48,269.96 L501.01,269.86 L501.54,269.75 L502.07,269.65 L502.61,269.55 L503.15,269.44 L503.70,269.34 L504.24,269.23 L504.80,269.12 L505.35,269.02 L505.91,268.91 L506.47,268.80 L507.04,268.69 L507.61,268.58 L508.18,268.47 L508.75,268.36 L509.33,268.25 L509.91,268.14 L510.50,268.03 L511.09,267.92 L511.68,267.81 L512.28,267.69 L512.88,267.58 L513.48,267.47 L514.09,267.35 L514.70,267.24 L515.31,267.12 L515.93,267.01 L516.55,266.89 L517.18,266.77 L517.81,266.65 L518.44,266.54 L519.07,266.42 L519.71,266.30 L520.35,266.18 L521.00,266.06 L521.65,265.94 L522.30,265.82 L522.96,265.70 L523.62,265.58 L524.28,265.46 L524.95,265.34 L525.62,265.22 L526.29,265.09 L526.97,264.97 L527.65,264.85 L528.34,264.72 L529.03,264.60 L529.72,264.48 L530.41,264.35 L531.11,264.23 L531.82,264.10 L532.52,263.97 L533.23,263.85 L533.95,263.72 L534.67,263.60 L535.39,263.47 L536.11,263.34 L536.84,263.21 L537.57,263.09 L538.31,262.96 L539.05,262.83 L539.79,262.70 L540.54,262.57 L541.29,262.44 L542.05,262.32 L542.80,262.19 L543.57,262.06 L544.33,261.93 L545.10,261.80 L545.87,261.67 L546.65,261.54 L547.43,261.40 L548.22,261.27 L549.00,261.14 L549.79,261.01 L550.59,260.88 L551.39,260.75 L552.19,260.62 L553.00,260.49 L553.81,260.35 L554.62,260.22 L555.44,260.09 L556.26,259.96 L557.09,259.83 L557.92,259.69 L558.75,259.56 L559.59,259.43 L560.43,259.30 L561.27,259.16 L562.12,259.03 L562.97,258.90 L563.83,258.77 L564.69,258.63 L565.55,258.50 L566.42,258.37 L567.29,258.24 L568.16,258.10 L569.04,257.97 L569.93,257.84 L570.81,257.71 L571.70,257.57 L572.60,257.44 L573.49,257.31 L574.39,257.18 L575.30,257.05 L576.21,256.91 L577.12,256.78 L578.04,256.65 L578.96,256.52 L579.89,256.39 L580.81,256.26 L581.75,256.13 L582.68,256.00 L583.62,255.87 L584.57,255.74 L585.52,255.61 L586.47,255.48 L587.42,255.35 L588.38,255.22 L589.35,255.09 L590.31,254.96 L591.29,254.83 L592.26,254.70 L593.24,254.57 L594.22,254.45 L595.21,254.32 L596.20,254.19 L597.20,254.06 L598.20,253.94 L599.20,253.81 L600.21,253.68 L601.22,253.56 L602.23,253.43 L603.25,253.31 L604.27,253.18 L605.30,253.06 L606.33,252.94 L607.36,252.81 L608.40,252.69 L609.44,252.57 L610.49,252.45 L611.54,252.32 L612.59,252.20 L613.65,252.08 L614.72,251.96 L615.78,251.84 L616.85,251.72 L617.93,251.60 L619.00,251.48 L620.09,251.37 L621.17,251.25 L622.26,251.13 L623.36,251.02 L624.45,250.90 L625.56,250.79 L626.66,250.67 L627.77,250.56 L628.89,250.44 L630.01,250.33 L631.13,250.22 L632.26,250.11 L633.39,249.99 L634.52,249.88 L635.66,249.77 L636.80,249.66 L637.95,249.56 L639.10,249.45 L640.25,249.34 L641.41,249.23 L642.57,249.13 L643.74,249.02 L644.91,248.92 L646.09,248.81 L647.27,248.71 L648.45,248.61 L649.64,248.51 L650.83,248.40 L652.02,248.30 L653.22,248.20 L654.43,248.10 L655.63,248.01 L656.85,247.91 L658.06,247.81 L659.28,247.72 L660.51,247.62 L661.73,247.53 L662.97,247.43 L664.20,247.34 L665.44,247.25 L666.69,247.15 L667.94,247.06 L669.19,246.97 L670.45,246.88 L671.71,246.80 L672.97,246.71 L674.24,246.62 L675.52,246.54 L676.79,246.45 L678.07,246.37 L679.36,246.28 L680.65,246.20 L681.94,246.12 L683.24,246.04 L684.55,245.96 L685.85,245.88 L687.16,245.80 L688.48,245.72 L689.80,245.65 L691.12,245.57 L692.45,245.49 L693.78,245.42 L695.12,245.35 L696.46,245.27 L697.80,245.20 L699.15,245.13 L700.50,245.06 L701.86,244.99 L703.22,244.92 L704.58,244.86 L705.95,244.79 L707.33,244.72 L708.70,244.66 L710.09,244.60 L711.47,244.53 L712.86,244.47 L714.26,244.41 L715.66,244.35 L717.06,244.29 L718.47,244.23 L719.88,244.17 L721.29,244.11 L722.71,244.06 L724.14,244.00 L725.56,243.95 L727.00,243.89 L728.43,243.84 L729.88,243.79 L731.32,243.74 L732.77,243.69 L734.22,243.64 L735.68,243.59 L737.14,243.54 L738.61,243.49 L740.08,243.44 L741.56,243.40 L743.04,243.35 L744.52,243.31 L746.01,243.27 L747.50,243.22 L749.00,243.18 L750.50,243.14 L752.00,243.10 L753.51,243.06 L755.02,243.02 L756.54,242.99 L758.06,242.95 L759.59,242.91 L761.12,242.88 L762.65,242.84 L764.19,242.81 L765.74,242.78 L767.29,242.74 L768.84,242.71 L770.39,242.68 L771.95,242.65 L773.52,242.62 L775.09,242.59 L776.66,242.56 L778.24,242.54 L779.82,242.51 L781.41,242.48 L783.00,242.46 L784.59,242.43 L786.19,242.41 L787.80,242.39 L789.41,242.37 L791.02,242.34 L792.64,242.32 L794.26,242.30 L795.88,242.28 L797.51,242.26 L799.15,242.25 L800.79,242.23 L802.43,242.21 L804.08,242.19 L805.73,242.18 L807.38,242.16 L809.04,242.15 L810.71,242.13 L812.38,242.12 L814.05,242.11" stroke="#00ff00"/>
<path d="M108.55,297.96 L110.22,297.94 L111.89,297.93 L113.56,297.91 L115.22,297.89 L116.87,297.87 L118.52,297.86 L120.17,297.84 L121.81,297.82 L123.45,297.80 L125.09,297.78 L126.72,297.76 L128.34,297.73 L129.96,297.71 L131.58,297.69 L133.19,297.67 L134.80,297.64 L136.41,297.62 L138.01,297.59 L139.60,297.57 L141.19,297.54 L142.78,297.51 L144.36,297.49 L145.94,297.46 L147.51,297.43 L149.08,297.40 L150.65,297.37 L152.21,297.34 L153.76,297.31 L155.31,297.28 L156.86,297.25 L158.41,297.21 L159.95,297.18 L161.48,297.15 L163.01,297.11 L164.54,297.08 L166.06,297.04 L167.58,297.01 L169.09,296.97 L170.60,296.93 L172.10,296.90 L173.60,296.86 L175.10,296.82 L176.59,296.78 L178.08,296.74 L179.56,296.70 L181.04,296.66 L182.52,296.62 L183.99,296.58 L185.46,296.54 L186.92,296.50 L188.38,296.45 L189.83,296.41 L191.28,296.37 L192.72,296.32 L194.17,296.28 L195.60,296.23 L197.04,296.19 L198.46,296.14 L199.89,296.09 L201.31,296.05 L202.72,296.00 L204.13,295.95 L205.54,295.90 L206.94,295.85 L208.34,295.80 L209.74,295.75 L211.13,295.70 L212.51,295.65 L213.90,295.60 L215.27,295.55 L216.65,295.50 L218.02,295.45 L219.38,295.39 L220.74,295.34 L222.10,295.29 L223.45,295.23 L224.80,295.18 L226.14,295.12 L227.48,295.07 L228.82,295.01 L230.15,294.96 L231.48,294.90 L232.80,294.84 L234.12,294.79 L235.44,294.73 L236.75,294.67 L238.05,294.61 L239.36,294.55 L240.66,294.50 L241.95,294.44 L243.24,294.38 L244.53,294.32 L245.81,294.26 L247.08,294.20 L248.36,294.14 L249.63,294.07 L250.89,294.01 L252.15,293.95 L253.41,293.89 L254.66,293.83 L255.91,293.76 L257.16,293.70 L258.40,293.64 L259.63,293.58 L260.87,293.51 L262.09,293.45 L263.32,293.38 L264.54,293.32 L265.75,293.25 L266.97,293.19 L268.17,293.12 L269.38,293.06 L270.58,292.99 L271.77,292.93 L272.96,292.86 L274.15,292.79 L275.33,292.73 L276.51,292.66 L277.69,292.59 L278.86,292.53 L280.03,292.46 L281.19,292.39 L282.35,292.32 L283.50,292.26 L284.65,292.19 L285.80,292.12 L286.94,292.05 L288.08,291.98 L289.21,291.91 L290.34,291.84 L291.47,291.78 L292.59,291.71 L293.71,291.64 L294.83,291.57 L295.94,291.50 L297.04,291.43 L298.15,291.36 L299.24,291.29 L300.34,291.22 L301.43,291.15 L302.51,291.08 L303.60,291.01 L304.67,290.94 L305.75,290.87 L306.82,290.79 L307.88,290.72 L308.95,290.65 L310.01,290.58 L311.06,290.51 L312.11,290.44 L313.16,290.37 L314.20,290.30 L315.24,290.23 L316.27,290.16 L317.30,290.08 L318.33,290.01 L319.35,289.94 L320.37,289.87 L321.38,289.80 L322.39,289.73 L323.40,289.66 L324.40,289.58 L325.40,289.51 L326.40,289.44 L327.39,289.37 L328.38,289.30 L329.36,289.23 L330.34,289.16 L331.31,289.08 L332.29,289.01 L333.25,288.94 L334.22,288.87 L335.18,288.80 L336.13,288.73 L337.08,288.66 L338.03,288.59 L338.98,288.51 L339.92,288.44 L340.85,288.37 L341.79,288.30 L342.71,288.23 L343.64,288.16 L344.56,288.09 L345.48,288.02 L346.39,287.95 L347.30,287.88 L348.21,287.81 L349.11,287.74 L350.00,287.67 L350.90,287.60 L351.79,287.53 L352.67,287.46 L353.56,287.39 L354.44,287.32 L355.31,287.25 L356.18,287.18 L357.05,287.11 L357.91,287.04 L358.77,286.97 L359.63,286.90 L360.48,286.83 L361.33,286.76 L362.17,286.69 L363.01,286.63 L363.85,286.56 L364.68,286.49 L365.51,286.42 L366.34,286.35 L367.16,286.29 L367.98,286.22 L368.79,286.15 L369.60,286.08 L370.41,286.02 L371.21,285.95 L372.01,285.88 L372.81,285.82 L373.60,285.75 L374.38,285.68 L375.17,285.62 L375.95,285.55 L376.73,285.49 L377.50,285.42 L378.27,285.36 L379.03,285.29 L379.80,285.23 L380.55,285.16 L381.31,285.10 L382.06,285.03 L382.81,284.97 L383.55,284.90 L384.29,284.84 L385.03,284.78 L385.76,284.71 L386.49,284.65 L387.21,284.59 L387.93,284.52 L388.65,284.46 L389.37,284.40 L390.08,284.34 L390.78,284.28 L391.49,284.21 L392.19,284.15 L392.88,284.09 L393.57,284.03 L394.26,283.97 L394.95,283.91 L395.63,283.85 L396.31,283.79 L396.98,283.73 L397.65,283.67 L398.32,283.61 L398.98,283.55 L399.64,283.50 L400.30,283.44 L400.95,283.38 L401.60,283.32 L402.25,283.26 L402.89,283.21 L403.53,283.15 L404.16,283.09 L404.79,283.03 L405.42,282.98 L406.05,282.92 L406.67,282.87 L407.29,282.81 L407.90,282.76 L408.51,282.70 L409.12,282.65 L409.72,282.59 L410.32,282.54 L410.92,282.48 L411.51,282.43 L412.10,282.38 L412.69,282.32 L413.27,282.27 L413.85,282.22 L414.42,282.16 L414.99,282.11 L415.56,282.06 L416.13,282.01 L416.69,281.96 L417.25,281.91 L417.80,281.86 L418.36,281.80 L418.90,281.75 L419.45,281.70 L419.99,281.65 L420.53,281.61 L421.06,281.56 L421.59,281.51 L422.12,281.46 L422.65,281.41 L423.17,281.36 L423.69,281.32 L424.20,281.27 L424.71,281.22 L425.22,281.17 L425.72,281.13 L426.22,281.08 L426.72,281.03 L427.22,280.99 L427.71,280.94 L428.20,280.90 L428.68,280.85 L429.16,280.81 L429.64,280.76 L430.11,280.72 L430.59,280.68 L431.05,280.63 L431.52,280.59 L431.98,280.55 L432.44,280.50 L432.89,280.46 L433.35,280.42 L433.80,280.38 L434.24,280.34 L434.68,280.30 L435.12,280.26 L435.56,280.21 L435.99,280.17 L436.42,280.13 L436.85,280.09 L437.27,280.05 L437.69,280.02 L438.11,279.98 L438.52,279.94 L438.94,279.90 L439.34,279.86 L439.75,279.82 L440.15,279.79 L440.55,279.75 L440.94,279.71 L441.34,279.68 L441.73,279.64 L442.11,279.60 L442.50,279.57 L442.88,279.53 L443.25,279.50 L443.63,279.46 L444.00,279.43 L444.37,279.39 L444.73,279.36 L445.09,279.32 L445.45,279.29 L445.81,279.26 L446.16,279.22 L446.51,279.19 L446.86,279.16 L447.21,279.12 L447.55,279.09 L447.89,279.06 L448.22,279.03 L448.56,279.00 L448.89,278.97 L449.22,278.94 L449.54,278.91 L449.86,278.88 L450.18,278.85 L450.50,278.82 L450.81,278.79 L451.12,278.76 L451.43,278.73 L451.74,278.70 L452.04,278.67 L452.34,278.64 L452.64,278.61 L452.93,278.59 L453.22,278.56 L453.51,278.53 L453.80,278.51 L454.08,278.48 L454.37,278.45 L454.64,278.43 L454.92,278.40 L455.19,278.37 L455.47,278.35 L455.74,278.32 L456.00,278.30 L456.27,278.27 L456.53,278.25 L456.79,278.22 L457.04,278.20 L457.30,278.18 L457.55,278.15 L457.80,278.13 L458.05,278.11 L458.29,278.08 L458.54,278.06 L458.78,278.04 L459.02,278.01 L459.25,277.99 L459.49,277.97 L459.72,277.95 L459.95,277.93 L460.18,277.91 L460.41,277.88 L460.63,277.86 L460.86,277.84 L461.08,277.82 L461.30,277.80 L461.52,277.78 L461.74,277.76 L461.97,277.74 L462.19,277.72 L462.42,277.69 L462.65,277.67 L462.88,277.65 L463.11,277.63 L463.35,277.61 L463.58,277.59 L463.82,277.56 L464.06,277.54 L464.31,277.52 L464.55,277.49 L464.80,277.47 L465.05,277.45 L465.30,277.42 L465.56,277.40 L465.81,277.38 L466.07,277.35 L466.33,277.33 L466.60,277.30 L466.86,277.28 L467.13,277.25 L467.41,277.23 L467.68,277.20 L467.96,277.17 L468.23,277.15 L468.52,277.12 L468.80,277.09 L469.09,277.07 L469.38,277.04 L469.67,277.01 L469.96,276.99 L470.26,276.96 L470.56,276.93 L470.86,276.90 L471.17,276.87 L471.48,276.84 L471.79,276.81 L472.10,276.78 L472.42,276.75 L472.74,276.72 L473.06,276.69 L473.38,276.66 L473.71,276.63 L474.04,276.60 L474.38,276.57 L474.71,276.54 L475.05,276.51 L475.39,276.48 L475.74,276.44 L476.09,276.41 L476.44,276.38 L476.79,276.34 L477.15,276.31 L477.51,276.28 L477.87,276.24 L478.23,276.21 L478.60,276.17 L478.97,276.14 L479.35,276.10 L479.72,276.07 L480.10,276.03 L480.49,276.00 L480.87,275.96 L481.26,275.92 L481.66,275.89 L482.05,275.85 L482.45,275.81 L482.85,275.78 L483.26,275.74 L483.66,275.70 L484.08,275.66 L484.49,275.62 L484.91,275.58 L485.33,275.55 L485.75,275.51 L486.18,275.47 L486.61,275.43 L487.04,275.39 L487.48,275.34 L487.92,275.30 L488.36,275.26 L488.80,275.22 L489.25,275.18 L489.71,275.14 L490.16,275.10 L490.62,275.05 L491.08,275.01 L491.55,274.97 L492.01,274.92 L492.49,274.88 L492.96,274.84 L493.44,274.79 L493.92,274.75 L494.40,274.70 L494.89,274.66 L495.38,274.61 L495.88,274.57 L496.38,274.52 L496.88,274.47 L497.38,274.43 L497.89,274.38 L498.40,274.33 L498.91,274.28 L499.43,274.24 L499.95,274.19 L500.48,274.14 L501.01,274.09 L501.54,274.04 L502.07,273.99 L502.61,273.95 L503.15,273.90 L503.70,273.85 L504.24,273.80 L504.80,273.74 L505.35,273.69 L505.91,273.64 L506.47,273.59 L507.04,273.54 L507.61,273.49 L508.18,273.44 L508.75,273.38 L509.33,273.33 L509.91,273.28 L510.50,273.22 L511.09,273.17 L511.68,273.12 L512.28,273.06 L512.88,273.01 L513.48,272.95 L514.09,272.90 L514.70,272.84 L515.31,272.79 L515.93,272.73 L516.55,272.68 L517.18,272.62 L517.81,272.57 L518.44,272.51 L519.07,272.45 L519.71,272.39 L520.35,272.34 L521.00,272.28 L521.65,272.22 L522.30,272.16 L522.96,272.10 L523.62,272.05 L524.28,271.99 L524.95,271.93 L525.62,271.87 L526.29,271.81 L526.97,271.75 L527.65,271.69 L528.34,271.63 L529.03,271.57 L529.72,271.51 L530.41,271.45 L531.11,271.39 L531.82,271.32 L532.52,271.26 L533.23,271.20 L533.95,271.14 L534.67,271.08 L535.39,271.01 L536.11,270.95 L536.84,270.89 L537.57,270.82 L538.31,270.76 L539.05,270.70 L539.79,270.63 L540.54,270.57 L541.29,270.50 L542.05,270.44 L542.80,270.37 L543.57,270.31 L544.33,270.24 L545.10,270.18 L545.87,270.11 L546.65,270.05 L547.43,269.98 L548.22,269.92 L549.00,269.85 L549.79,269.78 L550.59,269.72 L551.39,269.65 L552.19,269.58 L553.00,269.52 L553.81,269.45 L554.62,269.38 L555.44,269.31 L556.26,269.25 L557.09,269.18 L557.92,269.11 L558.75,269.04 L559.59,268.97 L560.43,268.91 L561.27,268.84 L562.12,268.77 L562.97,268.70 L563.83,268.63 L564.69,268.56 L565.55,268.49 L566.42,268.42 L567.29,268.35 L568.16,268.28 L569.04,268.21 L569.93,268.14 L570.81,268.07 L571.70,268.00 L572.60,267.93 L573.49,267.86 L574.39,267.79 L575.30,267.72 L576.21,267.65 L577.12,267.58 L578.04,267.51 L578.96,267.44 L579.89,267.37 L580.81,267.30 L581.75,267.23 L582.68,267.16 L583.62,267.09 L584.57,267.01 L585.52,266.94 L586.47,266.87 L587.42,266.80 L588.38,266.73 L589.35,266.66 L590.31,266.59 L591.29,266.52 L592.26,266.44 L593.24,266.37 L594.22,266.30 L595.21,266.23 L596.20,266.16 L597.20,266.09 L598.20,266.02 L599.20,265.94 L600.21,265.87 L601.22,265.80 L602.23,265.73 L603.25,265.66 L604.27,265.59 L605.30,265.52 L606.33,265.44 L607.36,265.37 L608.40,265.30 L609.44,265.23 L610.49,265.16 L611.54,265.09 L612.59,265.02 L613.65,264.95 L614.72,264.88 L615.78,264.81 L616.85,264.73 L617.93,264.66 L619.00,264.59 L620.09,264.52 L621.17,264.45 L622.26,264.38 L623.36,264.31 L624.45,264.24 L625.56,264.17 L626.66,264.10 L627.77,264.03 L628.89,263.96 L630.01,263.89 L631.13,263.82 L632.26,263.76 L633.39,263.69 L634.52,263.62 L635.66,263.55 L636.80,263.48 L637.95,263.41 L639.10,263.34 L640.25,263.28 L641.41,263.21 L642.57,263.14 L643.74,263.07 L644.91,263.01 L646.09,262.94 L647.27,262.87 L648.45,262.81 L649.64,262.74 L650.83,262.67 L652.02,262.61 L653.22,262.54 L654.43,262.48 L655.63,262.41 L656.85,262.35 L658.06,262.28 L659.28,262.22 L660.51,262.15 L661.73,262.09 L662.97,262.02 L664.20,261.96 L665.44,261.90 L666.69,261.84 L667.94,261.77 L669.19,261.71 L670.45,261.65 L671.71,261.59 L672.97,261.53 L674.24,261.46 L675.52,261.40 L676.79,261.34 L678.07,261.28 L679.36,261.22 L680.65,261.16 L681.94,261.10 L683.24,261.05 L684.55,260.99 L685.85,260.93 L687.16,260.87 L688.48,260.81 L689.80,260.76 L691.12,260.70 L692.45,260.64 L693.78,260.59 L695.12,260.53 L696.46,260.48 L697.80,260.42 L699.15,260.37 L700.50,260.31 L701.86,260.26 L703.22,260.21 L704.58,260.15 L705.95,260.10 L707.33,260.05 L708.70,260.00 L710.09,259.95 L711.47,259.90 L712.86,259.85 L714.26,259.80 L715.66,259.75 L717.06,259.70 L718.47,259.65 L719.88,259.60 L721.29,259.55 L722.71,259.51 L724.14,259.46 L725.56,259.41 L727.00,259.37 L728.43,259.32 L729.88,259.28 L731.32,259.23 L732.77,259.19 L734.22,259.15 L735.68,259.10 L737.14,259.06 L738.61,259.02 L740.08,258.98 L741.56,258.94 L743.04,258.90 L744.52,258.86 L746.01,258.82 L747.50,258.78 L749.00,258.74 L750.50,258.70 L752.00,258.67 L753.51,258.63 L755.02,258.59 L756.54,258.56 L758.06,258.52 L759.59,258.49 L761.12,258.45 L762.65,258.42 L764.19,258.39 L765.74,258.35 L767.29,258.32 L768.84,258.29 L770.39,258.26 L771.95,258.23 L773.52,258.20 L775.09,258.17 L776.66,258.14 L778.24,258.11 L779.82,258.09 L781.41,258.06 L783.00,258.03 L784.59,258.01 L786.19,257.98 L787.80,257.96 L789.41,257.93 L791.02,257.91 L792.64,257.89 L794.26,257.87 L795.88,257.84 L797.51,257.82 L799.15,257.80 L800.79,257.78 L802.43,257.76 L804.08,257.74 L805.73,257.73 L807.38,257.71 L809.04,257.69 L810.71,257.67 L812.38,257.66 L814.05,257.64" stroke="#ff0000"/>
<path d="M108.55,288.51 L110.22,288.50 L111.89,288.50 L113.56,288.49 L115.22,288.48 L116.87,288.47 L118.52,288.46 L120.17,288.45 L121.81,288.43 L123.45,288.42 L125.09,288.41 L126.72,288.40 L128.34,288.39 L129.96,288.37 L131.58,288.36 L133.19,288.35 L134.80,288.33 L136.41,288.32 L138.01,288.31 L139.60,288.29 L141.19,288.28 L142.78,288.26 L144.36,288.24 L145.94,288.23 L147.51,288.21 L149.08,288.19 L150.65,288.18 L152.21,288.16 L153.76,288.14 L155.31,288.12 L156.86,288.10 L158.41,288.09 L159.95,288.07 L161.48,288.05 L163.01,288.03 L164.54,288.01 L166.06,287.99 L167.58,287.97 L169.09,287.95 L170.60,287.92 L172.10,287.90 L173.60,287.88 L175.10,287.86 L176.59,287.84 L178.08,287.81 L179.56,287.79 L181.04,287.77 L182.52,287.74 L183.99,287.72 L185.46,287.69 L186.92,287.67 L188.38,287.64 L189.83,287.62 L191.28,287.59 L192.72,287.57 L194.17,287.54 L195.60,287.52 L197.04,287.49 L198.46,287.46 L199.89,287.44 L201.31,287.41 L202.72,287.38 L204.13,287.35 L205.54,287.32 L206.94,287.30 L208.34,287.27 L209.74,287.24 L211.13,287.21 L212.51,287.18 L213.90,287.15 L215.27,287.12 L216.65,287.09 L218.02,287.06 L219.38,287.03 L220.74,287.00 L222.10,286.97 L223.45,286.94 L224.80,286.91 L226.14,286.88 L227.48,286.84 L228.82,286.81 L230.15,286.78 L231.48,286.75 L232.80,286.71 L234.12,286.68 L235.44,286.65 L236.75,286.62 L238.05,286.58 L239.36,286.55 L240.66,286.51 L241.95,286.48 L243.24,286.45 L244.53,286.41 L245.81,286.38 L247.08,286.34 L248.36,286.31 L249.63,286.27 L250.89,286.24 L252.15,286.20 L253.41,286.17 L254.66,286.13 L255.91,286.10 L257.16,286.06 L258.40,286.03 L259.63,285.99 L260.87,285.95 L262.09,285.92 L263.32,285.88 L264.54,285.84 L265.75,285.81 L266.97,285.77 L268.17,285.73 L269.38,285.70 L270.58,285.66 L271.77,285.62 L272.96,285.59 L274.15,285.55 L275.33,285.51 L276.51,285.47 L277.69,285.44 L278.86,285.40 L280.03,285.36 L281.19,285.32 L282.35,285.29 L283.50,285.25 L284.65,285.21 L285.80,285.17 L286.94,285.13 L288.08,285.10 L289.21,285.06 L290.34,285.02 L291.47,284.98 L292.59,284.94 L293.71,284.90 L294.83,284.87 L295.94,284.83 L297.04,284.79 L298.15,284.75 L299.24,284.71 L300.34,284.67 L301.43,284.64 L302.51,284.60 L303.60,284.56 L304.67,284.52 L305.75,284.48 L306.82,284.44 L307.88,284.41 L308.95,284.37 L310.01,284.33 L311.06,284.29 L312.11,284.25 L313.16,284.21 L314.20,284.18 L315.24,284.14 L316.27,284.10 L317.30,284.06 L318.33,284.02 L319.35,283.98 L320.37,283.95 L321.38,283.91 L322.39,283.87 L323.40,283.83 L324.40,283.79 L325.40,283.75 L326.40,283.72 L327.39,283.68 L328.38,283.64 L329.36,283.60 L330.34,283.56 L331.31,283.53 L332.29,283.49 L333.25,283.45 L334.22,283.41 L335.18,283.38 L336.13,283.34 L337.08,283.30 L338.03,283.26 L338.98,283.23 L339.92,283.19 L340.85,283.15 L341.79,283.11 L342.71,283.08 L343.64,283.04 L344.56,283.00 L345.48,282.97 L346.39,282.93 L347.30,282.89 L348.21,282.86 L349.11,282.82 L350.00,282.78 L350.90,282.75 L351.79,282.71 L352.67,282.67 L353.56,282.64 L354.44,282.60 L355.31,282.56 L356.18,282.53 L357.05,282.49 L357.91,282.46 L358.77,282.42 L359.63,282.38 L360.48,282.35 L361.33,282.31 L362.17,282.28 L363.01,282.24 L363.85,282.21 L364.68,282.17 L365.51,282.14 L366.34,282.10 L367.16,282.07 L367.98,282.03 L368.79,282.00 L369.60,281.96 L370.41,281.93 L371.21,281.89 L372.01,281.86 L372.81,281.83 L373.60,281.79 L374.38,281.76 L375.17,281.72 L375.95,281.69 L376.73,281.66 L377.50,281.62 L378.27,281.59 L379.03,281.56 L379.80,281.52 L380.55,281.49 L381.31,281.46 L382.06,281.43 L382.81,281.39 L383.55,281.36 L384.29,281.33 L385.03,281.30 L385.76,281.26 L386.49,281.23 L387.21,281.20 L387.93,281.17 L388.65,281.14 L389.37,281.10 L390.08,281.07 L390.78,281.04 L391.49,281.01 L392.19,280.98 L392.88,280.95 L393.57,280.92 L394.26,280.89 L394.95,280.86 L395.63,280.83 L396.31,280.80 L396.98,280.77 L397.65,280.74 L398.32,280.71 L398.98,280.68 L399.64,280.65 L400.30,280.62 L400.95,280.59 L401.60,280.56 L402.25,280.53 L402.89,280.50 L403.53,280.47 L404.16,280.44 L404.79,280.41 L405.42,280.39 L406.05,280.36 L406.67,280.33 L407.29,280.30 L407.90,280.27 L408.51,280.25 L409.12,280.22 L409.72,280.19 L410.32,280.16 L410.92,280.14 L411.51,280.11 L412.10,280.08 L412.69,280.06 L413.27,280.03 L413.85,280.00 L414.42,279.98 L414.99,279.95 L415.56,279.92 L416.13,279.90 L416.69,279.87 L417.25,279.85 L417.80,279.82 L418.36,279.80 L418.90,279.77 L419.45,279.75 L419.99,279.72 L420.53,279.70 L421.06,279.67 L421.59,279.65 L422.12,279.62 L422.65,279.60 L423.17,279.58 L423.69,279.55 L424.20,279.53 L424.71,279.50 L425.22,279.48 L425.72,279.46 L426.22,279.43 L426.72,279.41 L427.22,279.39 L427.71,279.37 L428.20,279.34 L428.68,279.32 L429.16,279.30 L429.64,279.28 L430.11,279.25 L430.59,279.23 L431.05,279.21 L431.52,279.19 L431.98,279.17 L432.44,279.15 L432.89,279.13 L433.35,279.10 L433.80,279.08 L434.24,279.06 L434.68,279.04 L435.12,279.02 L435.56,279.00 L435.99,278.98 L436.42,278.96 L436.85,278.94 L437.27,278.92 L437.69,278.90 L438.11,278.88 L438.52,278.86 L438.94,278.84 L439.34,278.83 L439.75,278.81 L440.15,278.79 L440.55,278.77 L440.94,278.75 L441.34,278.73 L441.73,278.71 L442.11,278.70 L442.50,278.68 L442.88,278.66 L443.25,278.64 L443.63,278.63 L444.00,278.61 L444.37,278.59 L444.73,278.57 L445.09,278.56 L445.45,278.54 L445.81,278.52 L446.16,278.51 L446.51,278.49 L446.86,278.48 L447.21,278.46 L447.55,278.44 L447.89,278.43 L448.22,278.41 L448.56,278.40 L448.89,278.38 L449.22,278.37 L449.54,278.35 L449.86,278.34 L450.18,278.32 L450.50,278.31 L450.81,278.29 L451.12,278.28 L451.43,278.26 L451.74,278.25 L452.04,278.23 L452.34,278.22 L452.64,278.21 L452.93,278.19 L453.22,278.18 L453.51,278.16 L453.80,278.15 L454.08,278.14 L454.37,278.12 L454.64,278.11 L454.92,278.10 L455.19,278.09 L455.47,278.07 L455.74,278.06 L456.00,278.05 L456.27,278.04 L456.53,278.02 L456.79,278.01 L457.04,278.00 L457.30,277.99 L457.55,277.98 L457.80,277.96 L458.05,277.95 L458.29,277.94 L458.54,277.93 L458.78,277.92 L459.02,277.91 L459.25,277.90 L459.49,277.88 L459.72,277.87 L459.95,277.86 L460.18,277.85 L460.41,277.84 L460.63,277.83 L460.86,277.82 L461.08,277.81 L461.30,277.80 L461.52,277.79 L461.74,277.78 L461.97,277.77 L462.19,277.76 L462.42,277.75 L462.65,277.74 L462.88,277.73 L463.11,277.72 L463.35,277.70 L463.58,277.69 L463.82,277.68 L464.06,277.67 L464.31,277.66 L464.55,277.65 L464.80,277.64 L465.05,277.62 L465.30,277.61 L465.56,277.60 L465.81,277.59 L466.07,277.58 L466.33,277.56 L466.60,277.55 L466.86,277.54 L467.13,277.53 L467.41,277.51 L467.68,277.50 L467.96,277.49 L468.23,277.48 L468.52,277.46 L468.80,277.45 L469.09,277.44 L469.38,277.42 L469.67,277.41 L469.96,277.39 L470.26,277.38 L470.56,277.37 L470.86,277.35 L471.17,277.34 L471.48,277.32 L471.79,277.31 L472.10,277.29 L472.42,277.28 L472.74,277.26 L473.06,277.25 L473.38,277.23 L473.71,277.22 L474.04,277.20 L474.38,277.19 L474.71,277.17 L475.05,277.16 L475.39,277.14 L475.74,277.12 L476.09,277.11 L476.44,277.09 L476.79,277.08 L477.15,277.06 L477.51,277.04 L477.87,277.03 L478.23,277.01 L478.60,276.99 L478.97,276.97 L479.35,276.96 L479.72,276.94 L480.10,276.92 L480.49,276.90 L480.87,276.89 L481.26,276.87 L481.66,276.85 L482.05,276.83 L482.45,276.81 L482.85,276.79 L483.26,276.77 L483.66,276.76 L484.08,276.74 L484.49,276.72 L484.91,276.70 L485.33,276.68 L485.75,276.66 L486.18,276.64 L486.61,276.62 L487.04,276.60 L487.48,276.58 L487.92,276.56 L488.36,276.54 L488.80,276.52 L489.25,276.50 L489.71,276.47 L490.16,276.45 L490.62,276.43 L491.08,276.41 L491.55,276.39 L492.01,276.37 L492.49,276.35 L492.96,276.32 L493.44,276.30 L493.92,276.28 L494.40,276.26 L494.89,276.23 L495.38,276.21 L495.88,276.19 L496.38,276.17 L496.88,276.14 L497.38,276.12 L497.89,276.10 L498.40,276.07 L498.91,276.05 L499.43,276.02 L499.95,276.00 L500.48,275.98 L501.01,275.95 L501.54,275.93 L502.07,275.90 L502.61,275.88 L503.15,275.85 L503.70,275.83 L504.24,275.80 L504.80,275.78 L505.35,275.75 L505.91,275.73 L506.47,275.70 L507.04,275.68 L507.61,275.65 L508.18,275.62 L508.75,275.60 L509.33,275.57 L509.91,275.54 L510.50,275.52 L511.09,275.49 L511.68,275.46 L512.28,275.44 L512.88,275.41 L513.48,275.38 L514.09,275.35 L514.70,275.33 L515.31,275.30 L515.93,275.27 L516.55,275.24 L517.18,275.21 L517.81,275.19 L518.44,275.16 L519.07,275.13 L519.71,275.10 L520.35,275.07 L521.00,275.04 L521.65,275.01 L522.30,274.98 L522.96,274.95 L523.62,274.92 L524.28,274.89 L524.95,274.86 L525.62,274.83 L526.29,274.80 L526.97,274.77 L527.65,274.74 L528.34,274.71 L529.03,274.68 L529.72,274.65 L530.41,274.62 L531.11,274.59 L531.82,274.56 L532.52,274.53 L533.23,274.50 L533.95,274.46 L534.67,274.43 L535.39,274.40 L536.11,274.37 L536.84,274.34 L537.57,274.30 L538.31,274.27 L539.05,274.24 L539.79,274.21 L540.54,274.17 L541.29,274.14 L542.05,274.11 L542.80,274.08 L543.57,274.04 L544.33,274.01 L545.10,273.98 L545.87,273.94 L546.65,273.91 L547.43,273.88 L548.22,273.84 L549.00,273.81 L549.79,273.77 L550.59,273.74 L551.39,273.71 L552.19,273.67 L553.00,273.64 L553.81,273.60 L554.62,273.57 L555.44,273.53 L556.26,273.50 L557.09,273.46 L557.92,273.43 L558.75,273.39 L559.59,273.36 L560.43,273.32 L561.27,273.29 L562.12,273.25 L562.97,273.22 L563.83,273.18 L564.69,273.14 L565.55,273.11 L566.42,273.07 L567.29,273.04 L568.16,273.00 L569.04,272.96 L569.93,272.93 L570.81,272.89 L571.70,272.85 L572.60,272.82 L573.49,272.78 L574.39,272.74 L575.30,272.71 L576.21,272.67 L577.12,272.63 L578.04,272.60 L578.96,272.56 L579.89,272.52 L580.81,272.49 L581.75,272.45 L582.68,272.41 L583.62,272.37 L584.57,272.34 L585.52,272.30 L586.47,272.26 L587.42,272.22 L588.38,272.19 L589.35,272.15 L590.31,272.11 L591.29,272.07 L592.26,272.04 L593.24,272.00 L594.22,271.96 L595.21,271.92 L596.20,271.88 L597.20,271.85 L598.20,271.81 L599.20,271.77 L600.21,271.73 L601.22,271.69 L602.23,271.65 L603.25,271.62 L604.27,271.58 L605.30,271.54 L606.33,271.50 L607.36,271.46 L608.40,271.42 L609.44,271.39 L610.49,271.35 L611.54,271.31 L612.59,271.27 L613.65,271.23 L614.72,271.19 L615.78,271.16 L616.85,271.12 L617.93,271.08 L619.00,271.04 L620.09,271.00 L621.17,270.96 L622.26,270.93 L623.36,270.89 L624.45,270.85 L625.56,270.81 L626.66,270.77 L627.77,270.73 L628.89,270.70 L630.01,270.66 L631.13,270.62 L632.26,270.58 L633.39,270.54 L634.52,270.50 L635.66,270.47 L636.80,270.43 L637.95,270.39 L639.10,270.35 L640.25,270.31 L641.41,270.28 L642.57,270.24 L643.74,270.20 L644.91,270.16 L646.09,270.13 L647.27,270.09 L648.45,270.05 L649.64,270.01 L650.83,269.98 L652.02,269.94 L653.22,269.90 L654.43,269.87 L655.63,269.83 L656.85,269.79 L658.06,269.76 L659.28,269.72 L660.51,269.68 L661.73,269.65 L662.97,269.61 L664.20,269.57 L665.44,269.54 L666.69,269.50 L667.94,269.47 L669.19,269.43 L670.45,269.40 L671.71,269.36 L672.97,269.33 L674.24,269.29 L675.52,269.26 L676.79,269.22 L678.07,269.19 L679.36,269.15 L680.65,269.12 L681.94,269.09 L683.24,269.05 L684.55,269.02 L685.85,268.98 L687.16,268.95 L688.48,268.92 L689.80,268.89 L691.12,268.85 L692.45,268.82 L693.78,268.79 L695.12,268.76 L696.46,268.72 L697.80,268.69 L699.15,268.66 L700.50,268.63 L701.86,268.60 L703.22,268.57 L704.58,268.54 L705.95,268.51 L707.33,268.48 L708.70,268.45 L710.09,268.42 L711.47,268.39 L712.86,268.36 L714.26,268.33 L715.66,268.30 L717.06,268.28 L718.47,268.25 L719.88,268.22 L721.29,268.19 L722.71,268.16 L724.14,268.14 L725.56,268.11 L727.00,268.08 L728.43,268.06 L729.88,268.03 L731.32,268.01 L732.77,267.98 L734.22,267.96 L735.68,267.93 L737.14,267.91 L738.61,267.88 L740.08,267.86 L741.56,267.83 L743.04,267.81 L744.52,267.79 L746.01,267.76 L747.50,267.74 L749.00,267.72 L750.50,267.70 L752.00,267.68 L753.51,267.65 L755.02,267.63 L756.54,267.61 L758.06,267.59 L759.59,267.57 L761.12,267.55 L762.65,267.53 L764.19,267.51 L765.74,267.50 L767.29,267.48 L768.84,267.46 L770.39,267.44 L771.95,267.42 L773.52,267.41 L775.09,267.39 L776.66,267.37 L778.24,267.36 L779.82,267.34 L781.41,267.32 L783.00,267.31 L784.59,267.29 L786.19,267.28 L787.80,267.27 L789.41,267.25 L791.02,267.24 L792.64,267.23 L794.26,267.21 L795.88,267.20 L797.51,267.19 L799.15,267.18 L800.79,267.17 L802.43,267.15 L804.08,267.14 L805.73,267.13 L807.38,267.12 L809.04,267.11 L810.71,267.10 L812.38,267.10 L814.05,267.09" stroke="#800080"/>
</g>
<line x1="94.05" y1="277.80" x2="828.45" y2="277.80" stroke="#101010" stroke-width="1.1"/>
<g stroke="#000000" stroke-width="3.8" fill="none">
<line x1="108.50" y1="553.85" x2="108.50" y2="548.35"/>
<line x1="108.50" y1="1.3" x2="108.50" y2="6.80"/>
<line x1="143.75" y1="553.85" x2="143.75" y2="548.35"/>
<line x1="143.75" y1="1.3" x2="143.75" y2="6.80"/>
<line x1="179.00" y1="553.85" x2="179.00" y2="544.55"/>
<line x1="179.00" y1="1.3" x2="179.00" y2="10.60"/>
<line x1="214.25" y1="553.85" x2="214.25" y2="548.35"/>
<line x1="214.25" y1="1.3" x2="214.25" y2="6.80"/>
<line x1="249.50" y1="553.85" x2="249.50" y2="548.35"/>
<line x1="249.50" y1="1.3" x2="249.50" y2="6.80"/>
<line x1="284.75" y1="553.85" x2="284.75" y2="548.35"/>
<line x1="284.75" y1="1.3" x2="284.75" y2="6.80"/>
<line x1="320.00" y1="553.85" x2="320.00" y2="544.55"/>
<line x1="320.00" y1="1.3" x2="320.00" y2="10.60"/>
<line x1="355.25" y1="553.85" x2="355.25" y2="548.35"/>
<line x1="355.25" y1="1.3" x2="355.25" y2="6.80"/>
<line x1="390.50" y1="553.85" x2="390.50" y2="548.35"/>
<line x1="390.50" y1="1.3" x2="390.50" y2="6.80"/>
<line x1="425.75" y1="553.85" x2="425.75" y2="548.35"/>
<line x1="425.75" y1="1.3" x2="425.75" y2="6.80"/>
<line x1="461.00" y1="553.85" x2="461.00" y2="544.55"/>
<line x1="461.00" y1="1.3" x2="461.00" y2="10.60"/>
<line x1="496.25" y1="553.85" x2="496.25" y2="548.35"/>
<line x1="496.25" y1="1.3" x2="496.25" y2="6.80"/>
<line x1="531.50" y1="553.85" x2="531.50" y2="548.35"/>
<line x1="531.50" y1="1.3" x2="531.50" y2="6.80"/>
<line x1="566.75" y1="553.85" x2="566.75" y2="548.35"/>
<line x1="566.75" y1="1.3" x2="566.75" y2="6.80"/>
<line x1="602.00" y1="553.85" x2="602.00" y2="544.55"/>
<line x1="602.00" y1="1.3" x2="602.00" y2="10.60"/>
<line x1="637.25" y1="553.85" x2="637.25" y2="548.35"/>
<line x1="637.25" y1="1.3" x2="637.25" y2="6.80"/>
<line x1="672.50" y1="553.85" x2="672.50" y2="548.35"/>
<line x1="672.50" y1="1.3" x2="672.50" y2="6.80"/>
<line x1="707.75" y1="553.85" x2="707.75" y2="548.35"/>
<line x1="707.75" y1="1.3" x2="707.75" y2="6.80"/>
<line x1="743.00" y1="553.85" x2="743.00" y2="544.55"/>
<line x1="743.00" y1="1.3" x2="743.00" y2="10.60"/>
<line x1="778.25" y1="553.85" x2="778.25" y2="548.35"/>
<line x1="778.25" y1="1.3" x2="778.25" y2="6.80"/>
<line x1="813.50" y1="553.85" x2="813.50" y2="548.35"/>
<line x1="813.50" y1="1.3" x2="813.50" y2="6.80"/>
<line x1="94.05" y1="524.40" x2="103.35" y2="524.40"/>
<line x1="828.45" y1="524.40" x2="819.15" y2="524.40"/>
<line x1="94.05" y1="493.58" x2="99.55" y2="493.58"/>
<line x1="828.45" y1="493.58" x2="822.95" y2="493.58"/>
<line x1="94.05" y1="462.75" x2="99.55" y2="462.75"/>
<line x1="828.45" y1="462.75" x2="822.95" y2="462.75"/>
<line x1="94.05" y1="431.93" x2="99.55" y2="431.93"/>
<line x1="828.45" y1="431.93" x2="822.95" y2="431.93"/>
<line x1="94.05" y1="401.10" x2="103.35" y2="401.10"/>
<line x1="828.45" y1="401.10" x2="819.15" y2="401.10"/>
<line x1="94.05" y1="370.27" x2="99.55" y2="370.27"/>
<line x1="828.45" y1="370.27" x2="822.95" y2="370.27"/>
<line x1="94.05" y1="339.45" x2="99.55" y2="339.45"/>
<line x1="828.45" y1="339.45" x2="822.95" y2="339.45"/>
<line x1="94.05" y1="308.62" x2="99.55" y2="308.62"/>
<line x1="828.45" y1="308.62" x2="822.95" y2="308.62"/>
<line x1="94.05" y1="277.80" x2="103.35" y2="277.80"/>
<line x1="828.45" y1="277.80" x2="819.15" y2="277.80"/>
<line x1="94.05" y1="246.98" x2="99.55" y2="246.98"/>
<line x1="828.45" y1="246.98" x2="822.95" y2="246.98"/>
<line x1="94.05" y1="216.15" x2="99.55" y2="216.15"/>
<line x1="828.45" y1="216.15" x2="822.95" y2="216.15"/>
<line x1="94.05" y1="185.33" x2="99.55" y2="185.33"/>
<line x1="828.45" y1="185.33" x2="822.95" y2="185.33"/>
<line x1="94.05" y1="154.50" x2="103.35" y2="154.50"/>
<line x1="828.45" y1="154.50" x2="819.15" y2="154.50"/>
<line x1="94.05" y1="123.68" x2="99.55" y2="123.68"/>
<line x1="828.45" y1="123.68" x2="822.95" y2="123.68"/>
<line x1="94.05" y1="92.85" x2="99.55" y2="92.85"/>
<line x1="828.45" y1="92.85" x2="822.95" y2="92.85"/>
<line x1="94.05" y1="62.03" x2="99.55" y2="62.03"/>
<line x1="828.45" y1="62.03" x2="822.95" y2="62.03"/>
<line x1="94.05" y1="31.20" x2="103.35" y2="31.20"/>
<line x1="828.45" y1="31.20" x2="819.15" y2="31.20"/>
</g>
<rect x="94.05" y="1.3" width="734.40" height="552.55" fill="none" stroke="#000000" stroke-width="3.8"/>
<g font-family="'Liberation Sans', sans-serif" font-size="26.5px" fill="#000000" stroke="#000000" stroke-width="0.3">
<text transform="translate(179.00,583.0) scale(1,1.04)" text-anchor="middle">0.6</text>
<text transform="translate(320.10,583.0) scale(1,1.04)" text-anchor="middle">0.8</text>
<path transform="translate(442.53,582.9) scale(0.013184,-0.013037)" d="M763 0H583V1147Q518 1085 412.5 1023Q307 961 223 930V1104Q374 1175 487 1276Q600 1377 647 1472H763Z" stroke="none"/>
<text transform="translate(457.40,583.0) scale(1,1.04)" text-anchor="start">.0</text>
<path transform="translate(583.53,582.9) scale(0.013184,-0.013037)" d="M763 0H583V1147Q518 1085 412.5 1023Q307 961 223 930V1104Q374 1175 487 1276Q600 1377 647 1472H763Z" stroke="none"/>
<text transform="translate(598.40,583.0) scale(1,1.04)" text-anchor="start">.2</text>
<path transform="translate(724.53,582.9) scale(0.013184,-0.013037)" d="M763 0H583V1147Q518 1085 412.5 1023Q307 961 223 930V1104Q374 1175 487 1276Q600 1377 647 1472H763Z" stroke="none"/>
<text transform="translate(739.40,583.0) scale(1,1.04)" text-anchor="start">.4</text>
<text transform="translate(88.9,40.20) scale(1,1.05)" text-anchor="end">40</text>
<text transform="translate(88.9,163.50) scale(1,1.05)" text-anchor="end">20</text>
<text transform="translate(88.9,286.80) scale(1,1.05)" text-anchor="end">0</text>
<text transform="translate(88.9,410.10) scale(1,1.05)" text-anchor="end">20</text>
<rect x="43.2" y="402.00" width="12.4" height="2.0" stroke="none"/>
<text transform="translate(88.9,533.40) scale(1,1.05)" text-anchor="end">40</text>
<rect x="43.2" y="525.30" width="12.4" height="2.0" stroke="none"/>
</g>
<text x="462.0" y="624.8" text-anchor="middle" font-family="'Liberation Sans', sans-serif" font-style="italic" font-size="26.4px" fill="#000000" stroke="#000000" stroke-width="0.3">β</text>
<g transform="translate(24.7,323.2) rotate(-90)" font-family="'Liberation Sans', sans-serif" fill="#000000">
<text x="-0.5" y="0" font-size="23px" font-style="italic">E</text>
<text x="14.4" y="5.3" font-size="14.5px">−</text>
<text x="24.3" y="-10.4" font-size="16px">b</text>
<text x="38.7" y="1.6" font-size="23px" stroke="#000" stroke-width="0.2">+</text>
<text x="57.2" y="0" font-size="23px" font-style="italic">E</text>
<text x="72.3" y="4.9" font-size="15.5px">+</text>
<text x="82.0" y="-10.4" font-size="16px">b</text>
</g>
<rect x="667.0" y="350.0" width="146.80" height="186.30" rx="8.3" ry="8.3" fill="#ffffff" fill-opacity="0.92" stroke="#000000" stroke-width="2.3"/>
<g font-family="'Liberation Sans', sans-serif" font-size="22.4px" fill="#000000">
<rect x="682.4" y="370.40" width="23.3" height="22.8" fill="#0000ff" stroke="#0000aa" stroke-width="0.8"/>
<path transform="translate(705,368) scale(0.048193)" d="M130,186 L178,186 L224,378 L309,186 L356,186 L203,484 A31,31 0 1 1 152,480 L181,418 Z" stroke="none"/>
<rect x="730.3" y="379.34" width="11.6" height="1.9" stroke="none"/>
<rect x="730.3" y="384.40" width="11.6" height="1.9" stroke="none"/>
<text transform="translate(0,389.00) scale(1,1.04)" stroke="#000000" stroke-width="0.25"><tspan x="749.0" letter-spacing="0.3">0.05</tspan></text>
<rect x="682.4" y="400.40" width="23.3" height="22.8" fill="#ff7f00" stroke="#aa5500" stroke-width="0.8"/>
<path transform="translate(705,398) scale(0.048193)" d="M130,186 L178,186 L224,378 L309,186 L356,186 L203,484 A31,31 0 1 1 152,480 L181,418 Z" stroke="none"/>
<rect x="730.3" y="409.34" width="11.6" height="1.9" stroke="none"/>
<rect x="730.3" y="414.40" width="11.6" height="1.9" stroke="none"/>
<text transform="translate(0,419.00) scale(1,1.04)" stroke="#000000" stroke-width="0.25"><tspan x="749.0" letter-spacing="0.3">0.25</tspan></text>
<rect x="682.4" y="430.40" width="23.3" height="22.8" fill="#00ff00" stroke="#00aa00" stroke-width="0.8"/>
<path transform="translate(705,428) scale(0.048193)" d="M130,186 L178,186 L224,378 L309,186 L356,186 L203,484 A31,31 0 1 1 152,480 L181,418 Z" stroke="none"/>
<rect x="730.3" y="439.34" width="11.6" height="1.9" stroke="none"/>
<rect x="730.3" y="444.40" width="11.6" height="1.9" stroke="none"/>
<text transform="translate(0,449.00) scale(1,1.04)" stroke="#000000" stroke-width="0.25"><tspan x="749.0" letter-spacing="0.3">0.45</tspan></text>
<rect x="682.4" y="460.40" width="23.3" height="22.8" fill="#ff0000" stroke="#aa0000" stroke-width="0.8"/>
<path transform="translate(705,458) scale(0.048193)" d="M130,186 L178,186 L224,378 L309,186 L356,186 L203,484 A31,31 0 1 1 152,480 L181,418 Z" stroke="none"/>
<rect x="730.3" y="469.34" width="11.6" height="1.9" stroke="none"/>
<rect x="730.3" y="474.40" width="11.6" height="1.9" stroke="none"/>
<text transform="translate(0,479.00) scale(1,1.04)" stroke="#000000" stroke-width="0.25"><tspan x="749.0" letter-spacing="0.3">0.65</tspan></text>
<rect x="682.4" y="490.40" width="23.3" height="22.8" fill="#800080" stroke="#550055" stroke-width="0.8"/>
<path transform="translate(705,488) scale(0.048193)" d="M130,186 L178,186 L224,378 L309,186 L356,186 L203,484 A31,31 0 1 1 152,480 L181,418 Z" stroke="none"/>
<rect x="730.3" y="499.34" width="11.6" height="1.9" stroke="none"/>
<rect x="730.3" y="504.40" width="11.6" height="1.9" stroke="none"/>
<text transform="translate(0,509.00) scale(1,1.04)" stroke="#000000" stroke-width="0.25"><tspan x="749.0" letter-spacing="0.3">0.85</tspan></text>
</g>
</svg>
</body></html>
